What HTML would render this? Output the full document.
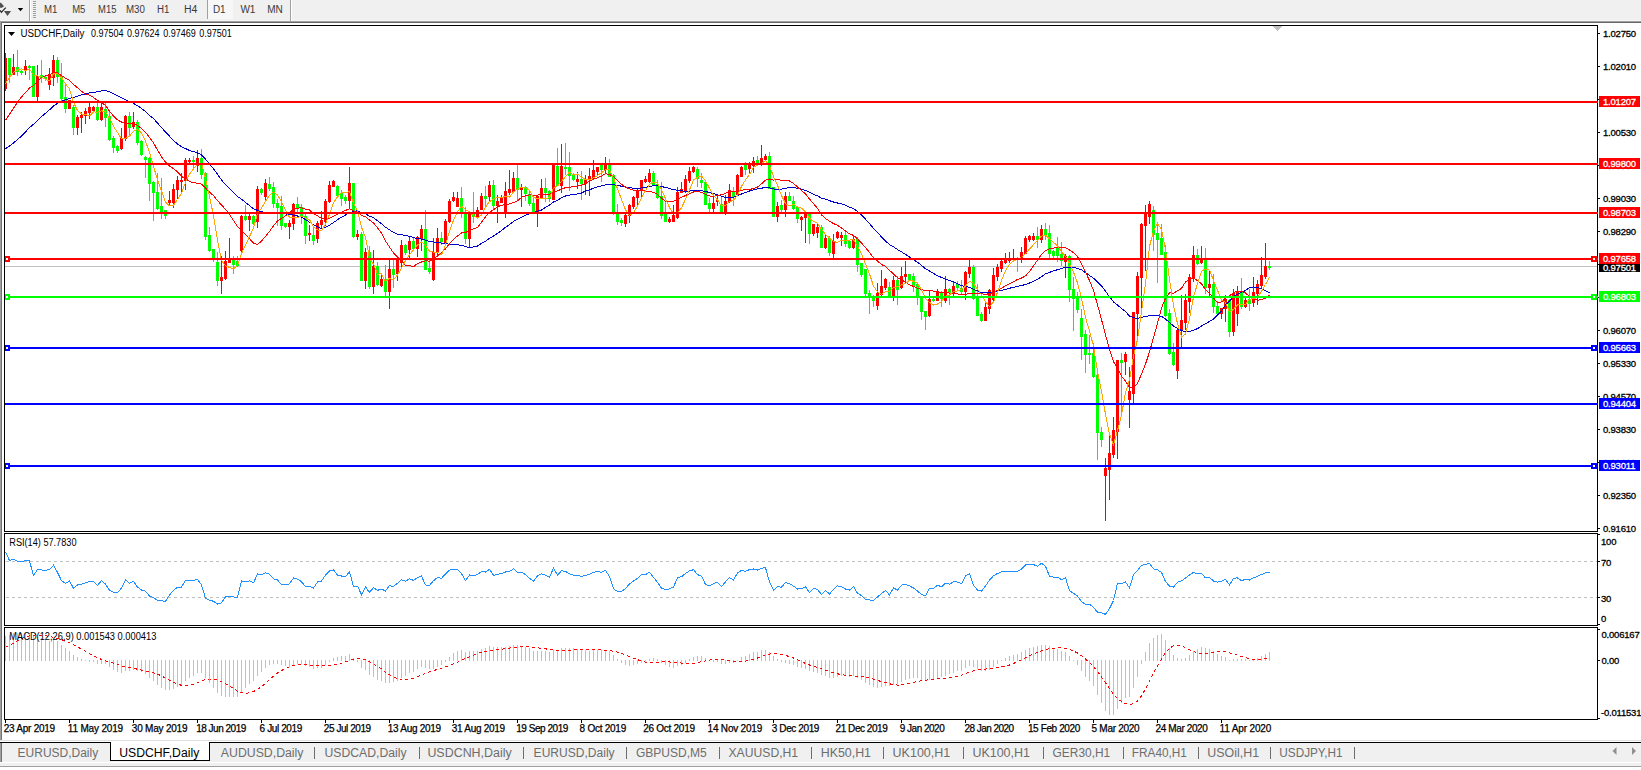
<!DOCTYPE html>
<html><head><meta charset="utf-8"><style>
html,body{margin:0;padding:0;background:#fff;}
body{width:1641px;height:770px;overflow:hidden;}
svg{display:block;font-family:"Liberation Sans",sans-serif;}
</style></head><body>
<svg width="1641" height="770" viewBox="0 0 1641 770">
<rect x="0" y="0" width="1641" height="21" fill="#f0f0f0"/>
<rect x="0" y="20" width="1641" height="1" fill="#f6f6f6"/>
<rect x="0" y="21" width="1641" height="1" fill="#a0a0a0"/>
<rect x="0" y="22" width="1641" height="1" fill="#696969"/>
<rect x="0" y="22" width="1" height="718" fill="#a0a0a0"/>
<rect x="1" y="22" width="1" height="718" fill="#737373"/>
<clipPath id="cm"><rect x="5" y="26" width="1592" height="505"/></clipPath>
<clipPath id="cr"><rect x="5" y="534" width="1592" height="91"/></clipPath>
<clipPath id="cd"><rect x="5" y="628" width="1592" height="91"/></clipPath>
<g clip-path="url(#cm)" shape-rendering="crispEdges">
<polygon points="1272.5,26 1282.5,26 1277.5,31" fill="#c0c0c0"/>
<rect x="5" y="266" width="1592" height="1" fill="#c0c0c0"/>
<rect x="5" y="53" width="1" height="38" fill="#ff0000"/>
<rect x="4" y="58" width="3" height="31" fill="#ff0000"/>
<rect x="9" y="58" width="1" height="25" fill="#00ff00"/>
<rect x="8" y="58" width="3" height="17" fill="#00ff00"/>
<rect x="13" y="54" width="1" height="21" fill="#ff0000"/>
<rect x="12" y="67" width="3" height="8" fill="#ff0000"/>
<rect x="17" y="50" width="1" height="26" fill="#00ff00"/>
<rect x="16" y="67" width="3" height="5" fill="#00ff00"/>
<rect x="21" y="70" width="1" height="5" fill="#00ff00"/>
<rect x="20" y="71" width="3" height="2" fill="#00ff00"/>
<rect x="25" y="60" width="1" height="15" fill="#ff0000"/>
<rect x="24" y="66" width="3" height="5" fill="#ff0000"/>
<rect x="29" y="65" width="1" height="15" fill="#00ff00"/>
<rect x="28" y="66" width="3" height="2" fill="#00ff00"/>
<rect x="33" y="66" width="1" height="31" fill="#00ff00"/>
<rect x="32" y="66" width="3" height="31" fill="#00ff00"/>
<rect x="37" y="65" width="1" height="36" fill="#ff0000"/>
<rect x="36" y="76" width="3" height="21" fill="#ff0000"/>
<rect x="41" y="60" width="1" height="23" fill="#00ff00"/>
<rect x="40" y="75" width="3" height="3" fill="#00ff00"/>
<rect x="45" y="76" width="1" height="5" fill="#00ff00"/>
<rect x="44" y="77" width="3" height="2" fill="#00ff00"/>
<rect x="49" y="68" width="1" height="22" fill="#ff0000"/>
<rect x="48" y="75" width="3" height="10" fill="#ff0000"/>
<rect x="53" y="55" width="1" height="31" fill="#ff0000"/>
<rect x="52" y="60" width="3" height="18" fill="#ff0000"/>
<rect x="57" y="57" width="1" height="26" fill="#00ff00"/>
<rect x="56" y="60" width="3" height="17" fill="#00ff00"/>
<rect x="61" y="63" width="1" height="39" fill="#00ff00"/>
<rect x="60" y="76" width="3" height="23" fill="#00ff00"/>
<rect x="65" y="85" width="1" height="28" fill="#00ff00"/>
<rect x="64" y="97" width="3" height="12" fill="#00ff00"/>
<rect x="69" y="100" width="1" height="9" fill="#ff0000"/>
<rect x="68" y="100" width="3" height="9" fill="#ff0000"/>
<rect x="73" y="105" width="1" height="30" fill="#00ff00"/>
<rect x="72" y="107" width="3" height="21" fill="#00ff00"/>
<rect x="77" y="115" width="1" height="20" fill="#ff0000"/>
<rect x="76" y="117" width="3" height="11" fill="#ff0000"/>
<rect x="81" y="112" width="1" height="21" fill="#ff0000"/>
<rect x="80" y="115" width="3" height="3" fill="#ff0000"/>
<rect x="85" y="108" width="1" height="16" fill="#ff0000"/>
<rect x="84" y="111" width="3" height="5" fill="#ff0000"/>
<rect x="89" y="102" width="1" height="17" fill="#ff0000"/>
<rect x="88" y="107" width="3" height="6" fill="#ff0000"/>
<rect x="93" y="106" width="1" height="7" fill="#ff0000"/>
<rect x="92" y="107" width="3" height="4" fill="#ff0000"/>
<rect x="97" y="102" width="1" height="19" fill="#00ff00"/>
<rect x="96" y="107" width="3" height="13" fill="#00ff00"/>
<rect x="101" y="102" width="1" height="19" fill="#ff0000"/>
<rect x="100" y="107" width="3" height="13" fill="#ff0000"/>
<rect x="105" y="102" width="1" height="25" fill="#00ff00"/>
<rect x="104" y="109" width="3" height="9" fill="#00ff00"/>
<rect x="109" y="112" width="1" height="29" fill="#00ff00"/>
<rect x="108" y="116" width="3" height="24" fill="#00ff00"/>
<rect x="113" y="136" width="1" height="17" fill="#00ff00"/>
<rect x="112" y="138" width="3" height="10" fill="#00ff00"/>
<rect x="117" y="145" width="1" height="8" fill="#00ff00"/>
<rect x="116" y="146" width="3" height="5" fill="#00ff00"/>
<rect x="121" y="128" width="1" height="22" fill="#ff0000"/>
<rect x="120" y="138" width="3" height="11" fill="#ff0000"/>
<rect x="125" y="115" width="1" height="26" fill="#ff0000"/>
<rect x="124" y="116" width="3" height="23" fill="#ff0000"/>
<rect x="129" y="112" width="1" height="24" fill="#00ff00"/>
<rect x="128" y="116" width="3" height="12" fill="#00ff00"/>
<rect x="133" y="112" width="1" height="17" fill="#ff0000"/>
<rect x="132" y="122" width="3" height="5" fill="#ff0000"/>
<rect x="137" y="120" width="1" height="25" fill="#00ff00"/>
<rect x="136" y="122" width="3" height="21" fill="#00ff00"/>
<rect x="141" y="140" width="1" height="16" fill="#00ff00"/>
<rect x="140" y="141" width="3" height="14" fill="#00ff00"/>
<rect x="145" y="156" width="1" height="22" fill="#00ff00"/>
<rect x="144" y="157" width="3" height="3" fill="#00ff00"/>
<rect x="149" y="157" width="1" height="44" fill="#00ff00"/>
<rect x="148" y="158" width="3" height="26" fill="#00ff00"/>
<rect x="153" y="181" width="1" height="40" fill="#00ff00"/>
<rect x="152" y="182" width="3" height="11" fill="#00ff00"/>
<rect x="157" y="173" width="1" height="37" fill="#00ff00"/>
<rect x="156" y="192" width="3" height="17" fill="#00ff00"/>
<rect x="161" y="178" width="1" height="41" fill="#00ff00"/>
<rect x="160" y="206" width="3" height="6" fill="#00ff00"/>
<rect x="165" y="210" width="1" height="9" fill="#00ff00"/>
<rect x="164" y="210" width="3" height="6" fill="#00ff00"/>
<rect x="169" y="191" width="1" height="14" fill="#ff0000"/>
<rect x="168" y="200" width="3" height="3" fill="#ff0000"/>
<rect x="173" y="184" width="1" height="24" fill="#ff0000"/>
<rect x="172" y="189" width="3" height="14" fill="#ff0000"/>
<rect x="177" y="176" width="1" height="23" fill="#ff0000"/>
<rect x="176" y="180" width="3" height="10" fill="#ff0000"/>
<rect x="181" y="173" width="1" height="20" fill="#ff0000"/>
<rect x="180" y="180" width="3" height="2" fill="#ff0000"/>
<rect x="185" y="158" width="1" height="32" fill="#ff0000"/>
<rect x="184" y="160" width="3" height="21" fill="#ff0000"/>
<rect x="189" y="158" width="1" height="6" fill="#ff0000"/>
<rect x="188" y="160" width="3" height="2" fill="#ff0000"/>
<rect x="193" y="156" width="1" height="14" fill="#00ff00"/>
<rect x="192" y="160" width="3" height="2" fill="#00ff00"/>
<rect x="197" y="150" width="1" height="22" fill="#ff0000"/>
<rect x="196" y="158" width="3" height="8" fill="#ff0000"/>
<rect x="201" y="149" width="1" height="30" fill="#00ff00"/>
<rect x="200" y="158" width="3" height="17" fill="#00ff00"/>
<rect x="205" y="172" width="1" height="68" fill="#00ff00"/>
<rect x="204" y="173" width="3" height="64" fill="#00ff00"/>
<rect x="209" y="227" width="1" height="25" fill="#00ff00"/>
<rect x="208" y="235" width="3" height="16" fill="#00ff00"/>
<rect x="213" y="249" width="1" height="13" fill="#00ff00"/>
<rect x="212" y="249" width="3" height="10" fill="#00ff00"/>
<rect x="217" y="252" width="1" height="34" fill="#00ff00"/>
<rect x="216" y="262" width="3" height="19" fill="#00ff00"/>
<rect x="221" y="256" width="1" height="38" fill="#ff0000"/>
<rect x="220" y="277" width="3" height="4" fill="#ff0000"/>
<rect x="225" y="251" width="1" height="29" fill="#ff0000"/>
<rect x="224" y="261" width="3" height="18" fill="#ff0000"/>
<rect x="229" y="238" width="1" height="25" fill="#ff0000"/>
<rect x="228" y="259" width="3" height="4" fill="#ff0000"/>
<rect x="233" y="256" width="1" height="18" fill="#00ff00"/>
<rect x="232" y="260" width="3" height="5" fill="#00ff00"/>
<rect x="237" y="256" width="1" height="11" fill="#00ff00"/>
<rect x="236" y="261" width="3" height="5" fill="#00ff00"/>
<rect x="241" y="215" width="1" height="37" fill="#ff0000"/>
<rect x="240" y="216" width="3" height="35" fill="#ff0000"/>
<rect x="245" y="205" width="1" height="16" fill="#00ff00"/>
<rect x="244" y="216" width="3" height="4" fill="#00ff00"/>
<rect x="249" y="214" width="1" height="17" fill="#ff0000"/>
<rect x="248" y="216" width="3" height="4" fill="#ff0000"/>
<rect x="253" y="215" width="1" height="10" fill="#00ff00"/>
<rect x="252" y="216" width="3" height="8" fill="#00ff00"/>
<rect x="257" y="186" width="1" height="42" fill="#ff0000"/>
<rect x="256" y="189" width="3" height="33" fill="#ff0000"/>
<rect x="261" y="188" width="1" height="7" fill="#00ff00"/>
<rect x="260" y="189" width="3" height="4" fill="#00ff00"/>
<rect x="265" y="179" width="1" height="21" fill="#ff0000"/>
<rect x="264" y="183" width="3" height="14" fill="#ff0000"/>
<rect x="269" y="177" width="1" height="14" fill="#00ff00"/>
<rect x="268" y="184" width="3" height="5" fill="#00ff00"/>
<rect x="273" y="182" width="1" height="26" fill="#00ff00"/>
<rect x="272" y="187" width="3" height="17" fill="#00ff00"/>
<rect x="277" y="199" width="1" height="27" fill="#00ff00"/>
<rect x="276" y="203" width="3" height="5" fill="#00ff00"/>
<rect x="281" y="196" width="1" height="34" fill="#00ff00"/>
<rect x="280" y="206" width="3" height="20" fill="#00ff00"/>
<rect x="285" y="223" width="1" height="5" fill="#00ff00"/>
<rect x="284" y="223" width="3" height="4" fill="#00ff00"/>
<rect x="289" y="220" width="1" height="19" fill="#ff0000"/>
<rect x="288" y="223" width="3" height="4" fill="#ff0000"/>
<rect x="293" y="203" width="1" height="27" fill="#ff0000"/>
<rect x="292" y="204" width="3" height="20" fill="#ff0000"/>
<rect x="297" y="197" width="1" height="15" fill="#00ff00"/>
<rect x="296" y="204" width="3" height="5" fill="#00ff00"/>
<rect x="301" y="204" width="1" height="20" fill="#00ff00"/>
<rect x="300" y="207" width="3" height="10" fill="#00ff00"/>
<rect x="305" y="214" width="1" height="30" fill="#00ff00"/>
<rect x="304" y="216" width="3" height="20" fill="#00ff00"/>
<rect x="309" y="225" width="1" height="16" fill="#ff0000"/>
<rect x="308" y="233" width="3" height="2" fill="#ff0000"/>
<rect x="313" y="228" width="1" height="17" fill="#00ff00"/>
<rect x="312" y="235" width="3" height="6" fill="#00ff00"/>
<rect x="317" y="221" width="1" height="22" fill="#ff0000"/>
<rect x="316" y="223" width="3" height="16" fill="#ff0000"/>
<rect x="321" y="211" width="1" height="17" fill="#ff0000"/>
<rect x="320" y="220" width="3" height="5" fill="#ff0000"/>
<rect x="325" y="199" width="1" height="27" fill="#ff0000"/>
<rect x="324" y="201" width="3" height="21" fill="#ff0000"/>
<rect x="329" y="181" width="1" height="22" fill="#ff0000"/>
<rect x="328" y="185" width="3" height="17" fill="#ff0000"/>
<rect x="333" y="180" width="1" height="7" fill="#ff0000"/>
<rect x="332" y="181" width="3" height="6" fill="#ff0000"/>
<rect x="337" y="185" width="1" height="12" fill="#00ff00"/>
<rect x="336" y="186" width="3" height="10" fill="#00ff00"/>
<rect x="341" y="190" width="1" height="16" fill="#00ff00"/>
<rect x="340" y="193" width="3" height="6" fill="#00ff00"/>
<rect x="345" y="195" width="1" height="9" fill="#00ff00"/>
<rect x="344" y="197" width="3" height="4" fill="#00ff00"/>
<rect x="349" y="167" width="1" height="41" fill="#ff0000"/>
<rect x="348" y="183" width="3" height="18" fill="#ff0000"/>
<rect x="353" y="183" width="1" height="55" fill="#00ff00"/>
<rect x="352" y="183" width="3" height="54" fill="#00ff00"/>
<rect x="357" y="230" width="1" height="10" fill="#ff0000"/>
<rect x="356" y="234" width="3" height="3" fill="#ff0000"/>
<rect x="361" y="232" width="1" height="49" fill="#00ff00"/>
<rect x="360" y="234" width="3" height="47" fill="#00ff00"/>
<rect x="365" y="248" width="1" height="41" fill="#ff0000"/>
<rect x="364" y="252" width="3" height="29" fill="#ff0000"/>
<rect x="369" y="246" width="1" height="43" fill="#00ff00"/>
<rect x="368" y="252" width="3" height="35" fill="#00ff00"/>
<rect x="373" y="250" width="1" height="44" fill="#ff0000"/>
<rect x="372" y="266" width="3" height="21" fill="#ff0000"/>
<rect x="377" y="262" width="1" height="24" fill="#00ff00"/>
<rect x="376" y="266" width="3" height="19" fill="#00ff00"/>
<rect x="381" y="275" width="1" height="12" fill="#ff0000"/>
<rect x="380" y="279" width="3" height="7" fill="#ff0000"/>
<rect x="385" y="265" width="1" height="31" fill="#00ff00"/>
<rect x="384" y="279" width="3" height="13" fill="#00ff00"/>
<rect x="389" y="260" width="1" height="49" fill="#ff0000"/>
<rect x="388" y="269" width="3" height="23" fill="#ff0000"/>
<rect x="393" y="260" width="1" height="28" fill="#00ff00"/>
<rect x="392" y="269" width="3" height="6" fill="#00ff00"/>
<rect x="397" y="259" width="1" height="22" fill="#ff0000"/>
<rect x="396" y="260" width="3" height="14" fill="#ff0000"/>
<rect x="401" y="240" width="1" height="27" fill="#ff0000"/>
<rect x="400" y="245" width="3" height="18" fill="#ff0000"/>
<rect x="405" y="244" width="1" height="11" fill="#00ff00"/>
<rect x="404" y="245" width="3" height="8" fill="#00ff00"/>
<rect x="409" y="237" width="1" height="22" fill="#ff0000"/>
<rect x="408" y="241" width="3" height="9" fill="#ff0000"/>
<rect x="413" y="238" width="1" height="12" fill="#00ff00"/>
<rect x="412" y="241" width="3" height="8" fill="#00ff00"/>
<rect x="417" y="236" width="1" height="21" fill="#ff0000"/>
<rect x="416" y="237" width="3" height="12" fill="#ff0000"/>
<rect x="421" y="225" width="1" height="26" fill="#ff0000"/>
<rect x="420" y="229" width="3" height="10" fill="#ff0000"/>
<rect x="425" y="210" width="1" height="60" fill="#00ff00"/>
<rect x="424" y="229" width="3" height="41" fill="#00ff00"/>
<rect x="429" y="260" width="1" height="14" fill="#00ff00"/>
<rect x="428" y="268" width="3" height="4" fill="#00ff00"/>
<rect x="433" y="238" width="1" height="43" fill="#ff0000"/>
<rect x="432" y="252" width="3" height="28" fill="#ff0000"/>
<rect x="437" y="228" width="1" height="29" fill="#ff0000"/>
<rect x="436" y="238" width="3" height="15" fill="#ff0000"/>
<rect x="441" y="232" width="1" height="13" fill="#00ff00"/>
<rect x="440" y="238" width="3" height="4" fill="#00ff00"/>
<rect x="445" y="219" width="1" height="25" fill="#ff0000"/>
<rect x="444" y="221" width="3" height="22" fill="#ff0000"/>
<rect x="449" y="199" width="1" height="24" fill="#ff0000"/>
<rect x="448" y="201" width="3" height="21" fill="#ff0000"/>
<rect x="453" y="192" width="1" height="10" fill="#ff0000"/>
<rect x="452" y="197" width="3" height="4" fill="#ff0000"/>
<rect x="457" y="192" width="1" height="15" fill="#ff0000"/>
<rect x="456" y="198" width="3" height="9" fill="#ff0000"/>
<rect x="461" y="187" width="1" height="31" fill="#00ff00"/>
<rect x="460" y="198" width="3" height="14" fill="#00ff00"/>
<rect x="465" y="207" width="1" height="37" fill="#00ff00"/>
<rect x="464" y="213" width="3" height="26" fill="#00ff00"/>
<rect x="469" y="213" width="1" height="34" fill="#ff0000"/>
<rect x="468" y="213" width="3" height="26" fill="#ff0000"/>
<rect x="473" y="192" width="1" height="31" fill="#00ff00"/>
<rect x="472" y="214" width="3" height="3" fill="#00ff00"/>
<rect x="477" y="207" width="1" height="12" fill="#ff0000"/>
<rect x="476" y="210" width="3" height="7" fill="#ff0000"/>
<rect x="481" y="193" width="1" height="17" fill="#ff0000"/>
<rect x="480" y="196" width="3" height="14" fill="#ff0000"/>
<rect x="485" y="186" width="1" height="21" fill="#00ff00"/>
<rect x="484" y="196" width="3" height="3" fill="#00ff00"/>
<rect x="489" y="181" width="1" height="20" fill="#ff0000"/>
<rect x="488" y="185" width="3" height="12" fill="#ff0000"/>
<rect x="493" y="180" width="1" height="30" fill="#00ff00"/>
<rect x="492" y="185" width="3" height="21" fill="#00ff00"/>
<rect x="497" y="195" width="1" height="28" fill="#ff0000"/>
<rect x="496" y="201" width="3" height="5" fill="#ff0000"/>
<rect x="501" y="195" width="1" height="8" fill="#ff0000"/>
<rect x="500" y="197" width="3" height="6" fill="#ff0000"/>
<rect x="505" y="182" width="1" height="36" fill="#ff0000"/>
<rect x="504" y="191" width="3" height="23" fill="#ff0000"/>
<rect x="509" y="170" width="1" height="25" fill="#ff0000"/>
<rect x="508" y="189" width="3" height="4" fill="#ff0000"/>
<rect x="513" y="172" width="1" height="20" fill="#ff0000"/>
<rect x="512" y="178" width="3" height="14" fill="#ff0000"/>
<rect x="517" y="165" width="1" height="35" fill="#00ff00"/>
<rect x="516" y="178" width="3" height="12" fill="#00ff00"/>
<rect x="521" y="184" width="1" height="23" fill="#ff0000"/>
<rect x="520" y="187" width="3" height="3" fill="#ff0000"/>
<rect x="525" y="186" width="1" height="15" fill="#00ff00"/>
<rect x="524" y="187" width="3" height="7" fill="#00ff00"/>
<rect x="529" y="190" width="1" height="16" fill="#00ff00"/>
<rect x="528" y="194" width="3" height="10" fill="#00ff00"/>
<rect x="533" y="197" width="1" height="16" fill="#00ff00"/>
<rect x="532" y="203" width="3" height="10" fill="#00ff00"/>
<rect x="537" y="196" width="1" height="31" fill="#ff0000"/>
<rect x="536" y="196" width="3" height="16" fill="#ff0000"/>
<rect x="541" y="179" width="1" height="20" fill="#ff0000"/>
<rect x="540" y="188" width="3" height="10" fill="#ff0000"/>
<rect x="545" y="178" width="1" height="24" fill="#00ff00"/>
<rect x="544" y="188" width="3" height="5" fill="#00ff00"/>
<rect x="549" y="190" width="1" height="12" fill="#00ff00"/>
<rect x="548" y="191" width="3" height="8" fill="#00ff00"/>
<rect x="553" y="164" width="1" height="36" fill="#ff0000"/>
<rect x="552" y="164" width="3" height="36" fill="#ff0000"/>
<rect x="557" y="148" width="1" height="38" fill="#00ff00"/>
<rect x="556" y="166" width="3" height="20" fill="#00ff00"/>
<rect x="561" y="144" width="1" height="49" fill="#ff0000"/>
<rect x="560" y="166" width="3" height="20" fill="#ff0000"/>
<rect x="565" y="143" width="1" height="32" fill="#00ff00"/>
<rect x="564" y="167" width="3" height="2" fill="#00ff00"/>
<rect x="569" y="152" width="1" height="39" fill="#00ff00"/>
<rect x="568" y="167" width="3" height="9" fill="#00ff00"/>
<rect x="573" y="173" width="1" height="8" fill="#00ff00"/>
<rect x="572" y="174" width="3" height="6" fill="#00ff00"/>
<rect x="577" y="172" width="1" height="17" fill="#ff0000"/>
<rect x="576" y="179" width="3" height="3" fill="#ff0000"/>
<rect x="581" y="171" width="1" height="29" fill="#00ff00"/>
<rect x="580" y="179" width="3" height="5" fill="#00ff00"/>
<rect x="585" y="175" width="1" height="20" fill="#ff0000"/>
<rect x="584" y="179" width="3" height="5" fill="#ff0000"/>
<rect x="589" y="168" width="1" height="28" fill="#ff0000"/>
<rect x="588" y="176" width="3" height="4" fill="#ff0000"/>
<rect x="593" y="160" width="1" height="20" fill="#ff0000"/>
<rect x="592" y="170" width="3" height="8" fill="#ff0000"/>
<rect x="597" y="167" width="1" height="8" fill="#ff0000"/>
<rect x="596" y="167" width="3" height="5" fill="#ff0000"/>
<rect x="601" y="164" width="1" height="18" fill="#00ff00"/>
<rect x="600" y="165" width="3" height="5" fill="#00ff00"/>
<rect x="605" y="157" width="1" height="17" fill="#ff0000"/>
<rect x="604" y="164" width="3" height="6" fill="#ff0000"/>
<rect x="609" y="159" width="1" height="18" fill="#00ff00"/>
<rect x="608" y="164" width="3" height="13" fill="#00ff00"/>
<rect x="613" y="174" width="1" height="41" fill="#00ff00"/>
<rect x="612" y="175" width="3" height="38" fill="#00ff00"/>
<rect x="617" y="204" width="1" height="21" fill="#00ff00"/>
<rect x="616" y="213" width="3" height="9" fill="#00ff00"/>
<rect x="621" y="218" width="1" height="8" fill="#00ff00"/>
<rect x="620" y="220" width="3" height="3" fill="#00ff00"/>
<rect x="625" y="212" width="1" height="15" fill="#ff0000"/>
<rect x="624" y="215" width="3" height="9" fill="#ff0000"/>
<rect x="629" y="204" width="1" height="19" fill="#ff0000"/>
<rect x="628" y="205" width="3" height="11" fill="#ff0000"/>
<rect x="633" y="196" width="1" height="13" fill="#ff0000"/>
<rect x="632" y="197" width="3" height="10" fill="#ff0000"/>
<rect x="637" y="188" width="1" height="17" fill="#ff0000"/>
<rect x="636" y="190" width="3" height="8" fill="#ff0000"/>
<rect x="641" y="180" width="1" height="17" fill="#ff0000"/>
<rect x="640" y="180" width="3" height="11" fill="#ff0000"/>
<rect x="645" y="176" width="1" height="7" fill="#ff0000"/>
<rect x="644" y="179" width="3" height="3" fill="#ff0000"/>
<rect x="649" y="169" width="1" height="14" fill="#ff0000"/>
<rect x="648" y="173" width="3" height="9" fill="#ff0000"/>
<rect x="653" y="171" width="1" height="15" fill="#00ff00"/>
<rect x="652" y="173" width="3" height="12" fill="#00ff00"/>
<rect x="657" y="180" width="1" height="19" fill="#00ff00"/>
<rect x="656" y="184" width="3" height="14" fill="#00ff00"/>
<rect x="661" y="182" width="1" height="37" fill="#00ff00"/>
<rect x="660" y="196" width="3" height="20" fill="#00ff00"/>
<rect x="665" y="202" width="1" height="20" fill="#00ff00"/>
<rect x="664" y="213" width="3" height="9" fill="#00ff00"/>
<rect x="669" y="217" width="1" height="6" fill="#ff0000"/>
<rect x="668" y="219" width="3" height="3" fill="#ff0000"/>
<rect x="673" y="205" width="1" height="17" fill="#ff0000"/>
<rect x="672" y="215" width="3" height="7" fill="#ff0000"/>
<rect x="677" y="187" width="1" height="32" fill="#ff0000"/>
<rect x="676" y="192" width="3" height="26" fill="#ff0000"/>
<rect x="681" y="182" width="1" height="11" fill="#ff0000"/>
<rect x="680" y="189" width="3" height="4" fill="#ff0000"/>
<rect x="685" y="175" width="1" height="18" fill="#ff0000"/>
<rect x="684" y="179" width="3" height="13" fill="#ff0000"/>
<rect x="689" y="167" width="1" height="16" fill="#ff0000"/>
<rect x="688" y="171" width="3" height="10" fill="#ff0000"/>
<rect x="693" y="166" width="1" height="7" fill="#ff0000"/>
<rect x="692" y="167" width="3" height="5" fill="#ff0000"/>
<rect x="697" y="167" width="1" height="20" fill="#00ff00"/>
<rect x="696" y="169" width="3" height="10" fill="#00ff00"/>
<rect x="701" y="173" width="1" height="15" fill="#00ff00"/>
<rect x="700" y="180" width="3" height="3" fill="#00ff00"/>
<rect x="705" y="181" width="1" height="24" fill="#00ff00"/>
<rect x="704" y="182" width="3" height="23" fill="#00ff00"/>
<rect x="709" y="198" width="1" height="15" fill="#00ff00"/>
<rect x="708" y="203" width="3" height="6" fill="#00ff00"/>
<rect x="713" y="196" width="1" height="17" fill="#ff0000"/>
<rect x="712" y="203" width="3" height="6" fill="#ff0000"/>
<rect x="717" y="195" width="1" height="11" fill="#ff0000"/>
<rect x="716" y="200" width="3" height="2" fill="#ff0000"/>
<rect x="721" y="197" width="1" height="16" fill="#00ff00"/>
<rect x="720" y="204" width="3" height="9" fill="#00ff00"/>
<rect x="725" y="195" width="1" height="20" fill="#ff0000"/>
<rect x="724" y="201" width="3" height="12" fill="#ff0000"/>
<rect x="729" y="184" width="1" height="19" fill="#ff0000"/>
<rect x="728" y="190" width="3" height="12" fill="#ff0000"/>
<rect x="733" y="187" width="1" height="19" fill="#00ff00"/>
<rect x="732" y="191" width="3" height="6" fill="#00ff00"/>
<rect x="737" y="174" width="1" height="22" fill="#ff0000"/>
<rect x="736" y="175" width="3" height="20" fill="#ff0000"/>
<rect x="741" y="166" width="1" height="11" fill="#ff0000"/>
<rect x="740" y="167" width="3" height="10" fill="#ff0000"/>
<rect x="745" y="162" width="1" height="13" fill="#00ff00"/>
<rect x="744" y="165" width="3" height="5" fill="#00ff00"/>
<rect x="749" y="162" width="1" height="11" fill="#ff0000"/>
<rect x="748" y="163" width="3" height="6" fill="#ff0000"/>
<rect x="753" y="157" width="1" height="16" fill="#ff0000"/>
<rect x="752" y="161" width="3" height="5" fill="#ff0000"/>
<rect x="757" y="156" width="1" height="8" fill="#00ff00"/>
<rect x="756" y="160" width="3" height="4" fill="#00ff00"/>
<rect x="761" y="145" width="1" height="21" fill="#ff0000"/>
<rect x="760" y="158" width="3" height="5" fill="#ff0000"/>
<rect x="765" y="154" width="1" height="6" fill="#ff0000"/>
<rect x="764" y="156" width="3" height="4" fill="#ff0000"/>
<rect x="769" y="152" width="1" height="37" fill="#00ff00"/>
<rect x="768" y="156" width="3" height="33" fill="#00ff00"/>
<rect x="773" y="187" width="1" height="30" fill="#00ff00"/>
<rect x="772" y="187" width="3" height="30" fill="#00ff00"/>
<rect x="777" y="202" width="1" height="20" fill="#ff0000"/>
<rect x="776" y="206" width="3" height="11" fill="#ff0000"/>
<rect x="781" y="200" width="1" height="13" fill="#00ff00"/>
<rect x="780" y="205" width="3" height="5" fill="#00ff00"/>
<rect x="785" y="192" width="1" height="25" fill="#ff0000"/>
<rect x="784" y="196" width="3" height="14" fill="#ff0000"/>
<rect x="789" y="192" width="1" height="9" fill="#00ff00"/>
<rect x="788" y="196" width="3" height="5" fill="#00ff00"/>
<rect x="793" y="196" width="1" height="14" fill="#00ff00"/>
<rect x="792" y="201" width="3" height="8" fill="#00ff00"/>
<rect x="797" y="207" width="1" height="16" fill="#00ff00"/>
<rect x="796" y="207" width="3" height="12" fill="#00ff00"/>
<rect x="801" y="216" width="1" height="15" fill="#ff0000"/>
<rect x="800" y="217" width="3" height="3" fill="#ff0000"/>
<rect x="805" y="213" width="1" height="30" fill="#ff0000"/>
<rect x="804" y="213" width="3" height="5" fill="#ff0000"/>
<rect x="809" y="213" width="1" height="31" fill="#00ff00"/>
<rect x="808" y="214" width="3" height="20" fill="#00ff00"/>
<rect x="813" y="224" width="1" height="12" fill="#ff0000"/>
<rect x="812" y="224" width="3" height="10" fill="#ff0000"/>
<rect x="817" y="224" width="1" height="14" fill="#ff0000"/>
<rect x="816" y="227" width="3" height="6" fill="#ff0000"/>
<rect x="821" y="225" width="1" height="23" fill="#00ff00"/>
<rect x="820" y="227" width="3" height="21" fill="#00ff00"/>
<rect x="825" y="235" width="1" height="14" fill="#ff0000"/>
<rect x="824" y="238" width="3" height="10" fill="#ff0000"/>
<rect x="829" y="236" width="1" height="20" fill="#00ff00"/>
<rect x="828" y="238" width="3" height="15" fill="#00ff00"/>
<rect x="833" y="234" width="1" height="25" fill="#ff0000"/>
<rect x="832" y="241" width="3" height="13" fill="#ff0000"/>
<rect x="837" y="231" width="1" height="8" fill="#ff0000"/>
<rect x="836" y="232" width="3" height="6" fill="#ff0000"/>
<rect x="841" y="232" width="1" height="14" fill="#ff0000"/>
<rect x="840" y="235" width="3" height="3" fill="#ff0000"/>
<rect x="845" y="231" width="1" height="16" fill="#00ff00"/>
<rect x="844" y="235" width="3" height="9" fill="#00ff00"/>
<rect x="849" y="240" width="1" height="9" fill="#00ff00"/>
<rect x="848" y="241" width="3" height="7" fill="#00ff00"/>
<rect x="853" y="236" width="1" height="13" fill="#ff0000"/>
<rect x="852" y="239" width="3" height="9" fill="#ff0000"/>
<rect x="857" y="237" width="1" height="35" fill="#00ff00"/>
<rect x="856" y="239" width="3" height="26" fill="#00ff00"/>
<rect x="861" y="263" width="1" height="14" fill="#00ff00"/>
<rect x="860" y="263" width="3" height="12" fill="#00ff00"/>
<rect x="865" y="269" width="1" height="28" fill="#00ff00"/>
<rect x="864" y="269" width="3" height="25" fill="#00ff00"/>
<rect x="869" y="290" width="1" height="24" fill="#00ff00"/>
<rect x="868" y="293" width="3" height="5" fill="#00ff00"/>
<rect x="873" y="295" width="1" height="12" fill="#00ff00"/>
<rect x="872" y="297" width="3" height="4" fill="#00ff00"/>
<rect x="877" y="283" width="1" height="27" fill="#ff0000"/>
<rect x="876" y="293" width="3" height="13" fill="#ff0000"/>
<rect x="881" y="270" width="1" height="26" fill="#ff0000"/>
<rect x="880" y="286" width="3" height="9" fill="#ff0000"/>
<rect x="885" y="278" width="1" height="12" fill="#ff0000"/>
<rect x="884" y="279" width="3" height="9" fill="#ff0000"/>
<rect x="889" y="282" width="1" height="16" fill="#00ff00"/>
<rect x="888" y="287" width="3" height="11" fill="#00ff00"/>
<rect x="893" y="276" width="1" height="25" fill="#ff0000"/>
<rect x="892" y="280" width="3" height="18" fill="#ff0000"/>
<rect x="897" y="276" width="1" height="29" fill="#00ff00"/>
<rect x="896" y="280" width="3" height="10" fill="#00ff00"/>
<rect x="901" y="267" width="1" height="22" fill="#ff0000"/>
<rect x="900" y="276" width="3" height="12" fill="#ff0000"/>
<rect x="905" y="261" width="1" height="21" fill="#ff0000"/>
<rect x="904" y="274" width="3" height="3" fill="#ff0000"/>
<rect x="909" y="274" width="1" height="7" fill="#00ff00"/>
<rect x="908" y="274" width="3" height="6" fill="#00ff00"/>
<rect x="913" y="273" width="1" height="19" fill="#00ff00"/>
<rect x="912" y="276" width="3" height="11" fill="#00ff00"/>
<rect x="917" y="283" width="1" height="22" fill="#00ff00"/>
<rect x="916" y="284" width="3" height="14" fill="#00ff00"/>
<rect x="921" y="297" width="1" height="23" fill="#00ff00"/>
<rect x="920" y="298" width="3" height="14" fill="#00ff00"/>
<rect x="925" y="311" width="1" height="19" fill="#00ff00"/>
<rect x="924" y="311" width="3" height="6" fill="#00ff00"/>
<rect x="929" y="291" width="1" height="26" fill="#ff0000"/>
<rect x="928" y="299" width="3" height="17" fill="#ff0000"/>
<rect x="933" y="298" width="1" height="4" fill="#00ff00"/>
<rect x="932" y="299" width="3" height="2" fill="#00ff00"/>
<rect x="937" y="289" width="1" height="12" fill="#ff0000"/>
<rect x="936" y="292" width="3" height="9" fill="#ff0000"/>
<rect x="941" y="291" width="1" height="16" fill="#00ff00"/>
<rect x="940" y="292" width="3" height="7" fill="#00ff00"/>
<rect x="945" y="276" width="1" height="27" fill="#ff0000"/>
<rect x="944" y="289" width="3" height="12" fill="#ff0000"/>
<rect x="949" y="288" width="1" height="17" fill="#00ff00"/>
<rect x="948" y="289" width="3" height="4" fill="#00ff00"/>
<rect x="953" y="282" width="1" height="14" fill="#ff0000"/>
<rect x="952" y="286" width="3" height="8" fill="#ff0000"/>
<rect x="957" y="281" width="1" height="9" fill="#00ff00"/>
<rect x="956" y="284" width="3" height="4" fill="#00ff00"/>
<rect x="961" y="280" width="1" height="15" fill="#00ff00"/>
<rect x="960" y="288" width="3" height="4" fill="#00ff00"/>
<rect x="965" y="271" width="1" height="29" fill="#ff0000"/>
<rect x="964" y="272" width="3" height="20" fill="#ff0000"/>
<rect x="969" y="260" width="1" height="18" fill="#ff0000"/>
<rect x="968" y="267" width="3" height="7" fill="#ff0000"/>
<rect x="973" y="265" width="1" height="35" fill="#00ff00"/>
<rect x="972" y="267" width="3" height="32" fill="#00ff00"/>
<rect x="977" y="284" width="1" height="32" fill="#00ff00"/>
<rect x="976" y="297" width="3" height="19" fill="#00ff00"/>
<rect x="981" y="312" width="1" height="10" fill="#00ff00"/>
<rect x="980" y="314" width="3" height="7" fill="#00ff00"/>
<rect x="985" y="302" width="1" height="19" fill="#ff0000"/>
<rect x="984" y="307" width="3" height="14" fill="#ff0000"/>
<rect x="989" y="289" width="1" height="25" fill="#ff0000"/>
<rect x="988" y="290" width="3" height="19" fill="#ff0000"/>
<rect x="993" y="268" width="1" height="33" fill="#ff0000"/>
<rect x="992" y="275" width="3" height="25" fill="#ff0000"/>
<rect x="997" y="264" width="1" height="17" fill="#ff0000"/>
<rect x="996" y="267" width="3" height="10" fill="#ff0000"/>
<rect x="1001" y="260" width="1" height="12" fill="#ff0000"/>
<rect x="1000" y="261" width="3" height="8" fill="#ff0000"/>
<rect x="1005" y="253" width="1" height="11" fill="#ff0000"/>
<rect x="1004" y="258" width="3" height="5" fill="#ff0000"/>
<rect x="1009" y="252" width="1" height="11" fill="#ff0000"/>
<rect x="1008" y="258" width="3" height="3" fill="#ff0000"/>
<rect x="1013" y="249" width="1" height="12" fill="#ff0000"/>
<rect x="1012" y="258" width="3" height="2" fill="#ff0000"/>
<rect x="1017" y="257" width="1" height="15" fill="#00ff00"/>
<rect x="1016" y="258" width="3" height="2" fill="#00ff00"/>
<rect x="1021" y="247" width="1" height="16" fill="#ff0000"/>
<rect x="1020" y="252" width="3" height="8" fill="#ff0000"/>
<rect x="1025" y="236" width="1" height="18" fill="#ff0000"/>
<rect x="1024" y="238" width="3" height="16" fill="#ff0000"/>
<rect x="1029" y="235" width="1" height="7" fill="#ff0000"/>
<rect x="1028" y="236" width="3" height="4" fill="#ff0000"/>
<rect x="1033" y="233" width="1" height="8" fill="#ff0000"/>
<rect x="1032" y="236" width="3" height="4" fill="#ff0000"/>
<rect x="1037" y="227" width="1" height="21" fill="#00ff00"/>
<rect x="1036" y="236" width="3" height="4" fill="#00ff00"/>
<rect x="1041" y="225" width="1" height="18" fill="#ff0000"/>
<rect x="1040" y="229" width="3" height="11" fill="#ff0000"/>
<rect x="1045" y="223" width="1" height="17" fill="#00ff00"/>
<rect x="1044" y="229" width="3" height="6" fill="#00ff00"/>
<rect x="1049" y="225" width="1" height="34" fill="#00ff00"/>
<rect x="1048" y="233" width="3" height="21" fill="#00ff00"/>
<rect x="1053" y="250" width="1" height="8" fill="#00ff00"/>
<rect x="1052" y="251" width="3" height="5" fill="#00ff00"/>
<rect x="1057" y="237" width="1" height="25" fill="#00ff00"/>
<rect x="1056" y="248" width="3" height="8" fill="#00ff00"/>
<rect x="1061" y="242" width="1" height="24" fill="#00ff00"/>
<rect x="1060" y="254" width="3" height="7" fill="#00ff00"/>
<rect x="1065" y="254" width="1" height="24" fill="#ff0000"/>
<rect x="1064" y="256" width="3" height="6" fill="#ff0000"/>
<rect x="1069" y="255" width="1" height="47" fill="#00ff00"/>
<rect x="1068" y="256" width="3" height="34" fill="#00ff00"/>
<rect x="1073" y="277" width="1" height="54" fill="#00ff00"/>
<rect x="1072" y="289" width="3" height="10" fill="#00ff00"/>
<rect x="1077" y="292" width="1" height="21" fill="#00ff00"/>
<rect x="1076" y="297" width="3" height="13" fill="#00ff00"/>
<rect x="1081" y="309" width="1" height="51" fill="#00ff00"/>
<rect x="1080" y="318" width="3" height="19" fill="#00ff00"/>
<rect x="1085" y="330" width="1" height="43" fill="#00ff00"/>
<rect x="1084" y="334" width="3" height="21" fill="#00ff00"/>
<rect x="1089" y="335" width="1" height="29" fill="#00ff00"/>
<rect x="1088" y="353" width="3" height="2" fill="#00ff00"/>
<rect x="1093" y="343" width="1" height="35" fill="#00ff00"/>
<rect x="1092" y="353" width="3" height="24" fill="#00ff00"/>
<rect x="1097" y="374" width="1" height="86" fill="#00ff00"/>
<rect x="1096" y="375" width="3" height="58" fill="#00ff00"/>
<rect x="1101" y="427" width="1" height="20" fill="#00ff00"/>
<rect x="1100" y="432" width="3" height="8" fill="#00ff00"/>
<rect x="1105" y="458" width="1" height="63" fill="#ff0000"/>
<rect x="1104" y="468" width="3" height="8" fill="#ff0000"/>
<rect x="1109" y="435" width="1" height="65" fill="#ff0000"/>
<rect x="1108" y="453" width="3" height="17" fill="#ff0000"/>
<rect x="1113" y="417" width="1" height="41" fill="#ff0000"/>
<rect x="1112" y="430" width="3" height="25" fill="#ff0000"/>
<rect x="1117" y="360" width="1" height="99" fill="#ff0000"/>
<rect x="1116" y="360" width="3" height="72" fill="#ff0000"/>
<rect x="1121" y="353" width="1" height="60" fill="#00ff00"/>
<rect x="1120" y="360" width="3" height="3" fill="#00ff00"/>
<rect x="1125" y="352" width="1" height="23" fill="#ff0000"/>
<rect x="1124" y="354" width="3" height="8" fill="#ff0000"/>
<rect x="1129" y="367" width="1" height="61" fill="#ff0000"/>
<rect x="1128" y="391" width="3" height="9" fill="#ff0000"/>
<rect x="1133" y="312" width="1" height="91" fill="#ff0000"/>
<rect x="1132" y="312" width="3" height="82" fill="#ff0000"/>
<rect x="1137" y="272" width="1" height="65" fill="#ff0000"/>
<rect x="1136" y="276" width="3" height="38" fill="#ff0000"/>
<rect x="1141" y="223" width="1" height="87" fill="#ff0000"/>
<rect x="1140" y="224" width="3" height="54" fill="#ff0000"/>
<rect x="1145" y="205" width="1" height="66" fill="#ff0000"/>
<rect x="1144" y="214" width="3" height="12" fill="#ff0000"/>
<rect x="1149" y="201" width="1" height="23" fill="#ff0000"/>
<rect x="1148" y="204" width="3" height="13" fill="#ff0000"/>
<rect x="1153" y="206" width="1" height="45" fill="#00ff00"/>
<rect x="1152" y="210" width="3" height="25" fill="#00ff00"/>
<rect x="1157" y="222" width="1" height="61" fill="#00ff00"/>
<rect x="1156" y="233" width="3" height="7" fill="#00ff00"/>
<rect x="1161" y="224" width="1" height="31" fill="#00ff00"/>
<rect x="1160" y="238" width="3" height="17" fill="#00ff00"/>
<rect x="1165" y="245" width="1" height="72" fill="#00ff00"/>
<rect x="1164" y="252" width="3" height="64" fill="#00ff00"/>
<rect x="1169" y="309" width="1" height="46" fill="#00ff00"/>
<rect x="1168" y="313" width="3" height="41" fill="#00ff00"/>
<rect x="1173" y="343" width="1" height="23" fill="#00ff00"/>
<rect x="1172" y="352" width="3" height="13" fill="#00ff00"/>
<rect x="1177" y="329" width="1" height="50" fill="#ff0000"/>
<rect x="1176" y="330" width="3" height="41" fill="#ff0000"/>
<rect x="1181" y="295" width="1" height="53" fill="#ff0000"/>
<rect x="1180" y="320" width="3" height="11" fill="#ff0000"/>
<rect x="1185" y="294" width="1" height="36" fill="#ff0000"/>
<rect x="1184" y="300" width="3" height="23" fill="#ff0000"/>
<rect x="1189" y="274" width="1" height="39" fill="#ff0000"/>
<rect x="1188" y="277" width="3" height="25" fill="#ff0000"/>
<rect x="1193" y="246" width="1" height="36" fill="#ff0000"/>
<rect x="1192" y="255" width="3" height="24" fill="#ff0000"/>
<rect x="1197" y="249" width="1" height="16" fill="#00ff00"/>
<rect x="1196" y="255" width="3" height="9" fill="#00ff00"/>
<rect x="1201" y="246" width="1" height="18" fill="#ff0000"/>
<rect x="1200" y="259" width="3" height="4" fill="#ff0000"/>
<rect x="1205" y="248" width="1" height="46" fill="#00ff00"/>
<rect x="1204" y="260" width="3" height="28" fill="#00ff00"/>
<rect x="1209" y="271" width="1" height="26" fill="#ff0000"/>
<rect x="1208" y="284" width="3" height="4" fill="#ff0000"/>
<rect x="1213" y="274" width="1" height="39" fill="#00ff00"/>
<rect x="1212" y="284" width="3" height="23" fill="#00ff00"/>
<rect x="1217" y="301" width="1" height="14" fill="#00ff00"/>
<rect x="1216" y="306" width="3" height="8" fill="#00ff00"/>
<rect x="1221" y="308" width="1" height="11" fill="#ff0000"/>
<rect x="1220" y="308" width="3" height="6" fill="#ff0000"/>
<rect x="1225" y="295" width="1" height="27" fill="#ff0000"/>
<rect x="1224" y="299" width="3" height="10" fill="#ff0000"/>
<rect x="1229" y="299" width="1" height="38" fill="#00ff00"/>
<rect x="1228" y="300" width="3" height="32" fill="#00ff00"/>
<rect x="1233" y="289" width="1" height="47" fill="#ff0000"/>
<rect x="1232" y="293" width="3" height="39" fill="#ff0000"/>
<rect x="1237" y="286" width="1" height="40" fill="#ff0000"/>
<rect x="1236" y="291" width="3" height="23" fill="#ff0000"/>
<rect x="1241" y="278" width="1" height="31" fill="#00ff00"/>
<rect x="1240" y="292" width="3" height="15" fill="#00ff00"/>
<rect x="1245" y="297" width="1" height="11" fill="#ff0000"/>
<rect x="1244" y="300" width="3" height="7" fill="#ff0000"/>
<rect x="1249" y="289" width="1" height="22" fill="#00ff00"/>
<rect x="1248" y="299" width="3" height="5" fill="#00ff00"/>
<rect x="1253" y="277" width="1" height="30" fill="#ff0000"/>
<rect x="1252" y="292" width="3" height="11" fill="#ff0000"/>
<rect x="1257" y="280" width="1" height="25" fill="#ff0000"/>
<rect x="1256" y="284" width="3" height="10" fill="#ff0000"/>
<rect x="1261" y="257" width="1" height="31" fill="#ff0000"/>
<rect x="1260" y="275" width="3" height="11" fill="#ff0000"/>
<rect x="1265" y="243" width="1" height="36" fill="#ff0000"/>
<rect x="1264" y="266" width="3" height="11" fill="#ff0000"/>
<rect x="1269" y="261" width="1" height="9" fill="#00ff00"/>
<rect x="1268" y="266" width="3" height="2" fill="#00ff00"/>
<polyline points="5.5,148.6 9.5,146.0 13.5,142.9 17.5,139.6 21.5,136.0 25.5,131.9 29.5,127.6 33.5,124.3 37.5,120.4 41.5,116.7 45.5,113.2 49.5,109.8 53.5,106.1 57.5,103.2 61.5,101.3 65.5,99.9 69.5,98.4 73.5,97.4 77.5,96.3 81.5,94.9 85.5,93.7 89.5,93.0 93.5,92.3 97.5,91.9 101.5,90.8 105.5,90.6 109.5,91.8 113.5,93.6 117.5,95.8 121.5,97.8 125.5,99.8 129.5,101.5 133.5,103.4 137.5,105.7 141.5,108.5 145.5,111.6 149.5,115.4 153.5,118.6 157.5,123.0 161.5,127.5 165.5,132.1 169.5,136.2 173.5,140.5 177.5,144.0 181.5,146.7 185.5,148.5 189.5,150.5 193.5,151.6 197.5,153.0 201.5,154.9 205.5,159.1 209.5,163.9 213.5,168.9 217.5,174.3 221.5,179.9 225.5,184.7 229.5,188.7 233.5,192.6 237.5,196.5 241.5,199.1 245.5,202.5 249.5,205.5 253.5,208.8 257.5,210.4 261.5,211.7 265.5,212.5 269.5,212.6 273.5,213.0 277.5,213.0 281.5,213.4 285.5,213.8 289.5,214.6 293.5,215.1 297.5,216.0 301.5,217.2 305.5,219.7 309.5,222.1 313.5,224.8 317.5,226.9 321.5,228.5 325.5,227.3 329.5,225.1 333.5,222.6 337.5,219.7 341.5,217.1 345.5,215.1 349.5,212.5 353.5,211.6 357.5,210.6 361.5,212.7 365.5,213.8 369.5,216.1 373.5,217.6 377.5,220.7 381.5,223.6 385.5,227.2 389.5,229.9 393.5,232.3 397.5,234.1 401.5,234.7 405.5,235.6 409.5,236.2 413.5,237.7 417.5,238.6 421.5,239.1 425.5,240.2 429.5,241.5 433.5,241.9 437.5,242.4 441.5,243.1 445.5,243.7 449.5,244.3 453.5,244.8 457.5,244.9 461.5,245.3 465.5,246.6 469.5,247.6 473.5,246.9 477.5,246.1 481.5,243.3 485.5,241.5 489.5,238.2 493.5,236.1 497.5,233.4 501.5,230.6 505.5,227.3 509.5,224.6 513.5,221.4 517.5,219.1 521.5,217.1 525.5,215.2 529.5,213.9 533.5,212.7 537.5,211.3 541.5,210.0 545.5,207.4 549.5,205.0 553.5,202.0 557.5,200.3 561.5,197.8 565.5,196.0 569.5,195.1 573.5,194.5 577.5,193.9 581.5,193.0 585.5,191.0 589.5,189.8 593.5,188.2 597.5,186.8 601.5,185.9 605.5,184.8 609.5,184.5 613.5,184.7 617.5,185.4 621.5,186.2 625.5,187.0 629.5,187.5 633.5,188.2 637.5,188.2 641.5,188.0 645.5,187.5 649.5,186.5 653.5,185.6 657.5,185.6 661.5,186.5 665.5,187.5 669.5,188.2 673.5,189.9 677.5,190.1 681.5,190.9 685.5,191.2 689.5,191.1 693.5,190.7 697.5,190.7 701.5,190.6 705.5,191.5 709.5,192.5 713.5,193.6 717.5,194.7 721.5,196.2 725.5,197.4 729.5,197.9 733.5,197.3 737.5,195.8 741.5,194.0 745.5,192.4 749.5,191.0 753.5,189.8 757.5,188.9 761.5,188.2 765.5,187.4 769.5,187.9 773.5,189.0 777.5,189.3 781.5,189.1 785.5,188.3 789.5,187.6 793.5,187.4 797.5,188.3 801.5,189.2 805.5,190.3 809.5,192.4 813.5,194.3 817.5,195.9 821.5,198.1 825.5,199.2 829.5,200.7 833.5,202.0 837.5,203.0 841.5,203.8 845.5,205.2 849.5,207.1 853.5,208.5 857.5,211.5 861.5,215.1 865.5,219.2 869.5,223.7 873.5,228.3 877.5,232.6 881.5,236.9 885.5,241.0 889.5,244.6 893.5,246.8 897.5,249.5 901.5,251.8 905.5,254.4 909.5,257.0 913.5,259.6 917.5,262.2 921.5,265.4 925.5,268.8 929.5,271.0 933.5,273.5 937.5,275.7 941.5,277.4 945.5,279.1 949.5,280.4 953.5,281.9 957.5,283.8 961.5,285.6 965.5,286.6 969.5,287.3 973.5,289.2 977.5,290.9 981.5,292.5 985.5,292.9 989.5,292.7 993.5,291.9 997.5,291.0 1001.5,290.2 1005.5,289.5 1009.5,288.2 1013.5,287.4 1017.5,286.4 1021.5,285.6 1025.5,284.4 1029.5,283.0 1033.5,281.3 1037.5,279.4 1041.5,276.7 1045.5,273.9 1049.5,272.4 1053.5,270.9 1057.5,269.7 1061.5,268.4 1065.5,267.3 1069.5,267.2 1073.5,267.6 1077.5,268.3 1081.5,269.8 1085.5,272.6 1089.5,275.5 1093.5,278.1 1097.5,282.0 1101.5,285.9 1105.5,291.3 1109.5,296.7 1113.5,301.9 1117.5,305.0 1121.5,308.4 1125.5,311.6 1129.5,316.0 1133.5,317.8 1137.5,318.4 1141.5,317.4 1145.5,316.6 1149.5,315.6 1153.5,315.5 1157.5,315.5 1161.5,316.3 1165.5,319.0 1169.5,322.4 1173.5,326.0 1177.5,328.5 1181.5,330.5 1185.5,332.0 1189.5,331.6 1193.5,330.1 1197.5,328.6 1201.5,326.0 1205.5,323.8 1209.5,321.5 1213.5,319.1 1217.5,315.2 1221.5,310.8 1225.5,305.2 1229.5,301.1 1233.5,296.5 1237.5,294.2 1241.5,292.4 1245.5,290.6 1249.5,287.6 1253.5,287.0 1257.5,287.2 1261.5,288.9 1265.5,290.7 1269.5,292.8" fill="none" stroke="#0000cd" stroke-width="1"/>
<polyline points="5.5,120.2 9.5,114.2 13.5,108.3 17.5,102.1 21.5,96.9 25.5,92.5 29.5,88.1 33.5,85.5 37.5,81.1 41.5,77.8 45.5,75.9 49.5,74.6 53.5,73.0 57.5,72.9 61.5,75.7 65.5,78.1 69.5,80.5 73.5,84.5 77.5,87.7 81.5,91.2 85.5,94.4 89.5,95.1 93.5,97.4 97.5,100.4 101.5,102.4 105.5,105.4 109.5,111.1 113.5,116.1 117.5,119.9 121.5,122.0 125.5,123.1 129.5,123.1 133.5,123.5 137.5,125.4 141.5,128.5 145.5,132.2 149.5,137.6 153.5,142.9 157.5,150.1 161.5,156.8 165.5,162.2 169.5,166.0 173.5,168.8 177.5,171.8 181.5,176.4 185.5,178.7 189.5,181.4 193.5,182.8 197.5,183.1 201.5,184.1 205.5,187.9 209.5,192.1 213.5,195.6 217.5,200.6 221.5,205.0 225.5,209.4 229.5,214.4 233.5,220.4 237.5,226.4 241.5,230.4 245.5,234.6 249.5,238.6 253.5,243.2 257.5,244.3 261.5,241.1 265.5,236.4 269.5,231.4 273.5,225.9 277.5,220.9 281.5,218.3 285.5,215.9 289.5,213.0 293.5,208.6 297.5,208.1 301.5,207.9 305.5,209.2 309.5,209.9 313.5,213.6 317.5,215.8 321.5,218.4 325.5,219.4 329.5,218.1 333.5,216.2 337.5,214.1 341.5,212.1 345.5,210.4 349.5,208.9 353.5,210.9 357.5,212.2 361.5,215.4 365.5,216.8 369.5,220.1 373.5,223.1 377.5,227.7 381.5,233.3 385.5,240.9 389.5,247.1 393.5,252.8 397.5,257.2 401.5,260.4 405.5,265.4 409.5,265.7 413.5,266.7 417.5,263.6 421.5,262.0 425.5,260.8 429.5,261.1 433.5,258.9 437.5,255.9 441.5,252.4 445.5,248.9 449.5,243.7 453.5,239.2 457.5,235.9 461.5,232.9 465.5,232.7 469.5,230.2 473.5,228.7 477.5,227.4 481.5,222.1 485.5,216.9 489.5,212.1 493.5,209.8 497.5,206.9 501.5,205.2 505.5,204.5 509.5,203.9 513.5,202.5 517.5,200.9 521.5,197.3 525.5,195.9 529.5,194.9 533.5,195.1 537.5,195.1 541.5,194.4 545.5,194.9 549.5,194.4 553.5,191.7 557.5,190.9 561.5,189.1 565.5,187.6 569.5,187.4 573.5,186.6 577.5,186.1 581.5,185.4 585.5,183.6 589.5,181.1 593.5,179.2 597.5,177.7 601.5,176.1 605.5,173.6 609.5,174.5 613.5,176.4 617.5,180.4 621.5,184.2 625.5,187.1 629.5,188.9 633.5,190.2 637.5,190.7 641.5,190.8 645.5,191.0 649.5,191.2 653.5,192.4 657.5,194.4 661.5,198.1 665.5,201.3 669.5,201.8 673.5,201.4 677.5,199.2 681.5,197.4 685.5,195.5 689.5,193.6 693.5,192.0 697.5,191.9 701.5,192.1 705.5,194.3 709.5,196.0 713.5,196.4 717.5,195.4 721.5,194.7 725.5,193.4 729.5,191.6 733.5,191.9 737.5,190.9 741.5,190.1 745.5,189.9 749.5,189.6 753.5,188.4 757.5,187.1 761.5,183.8 765.5,180.1 769.5,179.0 773.5,180.1 777.5,179.7 781.5,180.3 785.5,180.7 789.5,181.0 793.5,183.4 797.5,187.0 801.5,190.4 805.5,194.0 809.5,199.1 813.5,203.5 817.5,208.4 821.5,214.9 825.5,218.5 829.5,221.1 833.5,223.6 837.5,225.2 841.5,228.0 845.5,231.1 849.5,233.9 853.5,235.4 857.5,238.7 861.5,243.1 865.5,247.4 869.5,252.6 873.5,257.8 877.5,261.1 881.5,264.5 885.5,266.4 889.5,270.4 893.5,273.9 897.5,277.7 901.5,280.1 905.5,282.0 909.5,284.9 913.5,286.4 917.5,288.1 921.5,289.4 925.5,290.7 929.5,290.6 933.5,291.1 937.5,291.6 941.5,292.9 945.5,292.4 949.5,293.2 953.5,293.0 957.5,293.8 961.5,295.0 965.5,294.5 969.5,293.1 973.5,293.2 977.5,293.5 981.5,293.8 985.5,294.4 989.5,293.6 993.5,292.4 997.5,290.2 1001.5,288.2 1005.5,285.8 1009.5,283.8 1013.5,281.7 1017.5,279.4 1021.5,278.0 1025.5,275.9 1029.5,271.5 1033.5,265.9 1037.5,260.1 1041.5,254.5 1045.5,250.5 1049.5,248.9 1053.5,248.1 1057.5,247.6 1061.5,247.8 1065.5,247.6 1069.5,249.9 1073.5,252.6 1077.5,256.7 1081.5,263.7 1085.5,272.1 1089.5,280.6 1093.5,290.4 1097.5,304.9 1101.5,319.5 1105.5,334.9 1109.5,349.0 1113.5,361.5 1117.5,368.6 1121.5,376.2 1125.5,380.9 1129.5,387.5 1133.5,387.7 1137.5,383.4 1141.5,374.1 1145.5,364.1 1149.5,351.9 1153.5,337.7 1157.5,323.4 1161.5,308.1 1165.5,298.3 1169.5,292.8 1173.5,293.1 1177.5,290.8 1181.5,288.4 1185.5,281.9 1189.5,279.4 1193.5,277.9 1197.5,280.6 1201.5,283.9 1205.5,289.8 1209.5,293.4 1213.5,298.1 1217.5,302.4 1221.5,301.9 1225.5,298.0 1229.5,295.6 1233.5,293.0 1237.5,290.9 1241.5,291.4 1245.5,293.0 1249.5,296.4 1253.5,298.5 1257.5,300.3 1261.5,299.4 1265.5,298.1 1269.5,295.4" fill="none" stroke="#ff0000" stroke-width="1"/>
<polyline points="5.5,83.7 9.5,77.5 13.5,72.5 17.5,70.0 21.5,68.9 25.5,70.5 29.5,69.1 33.5,74.9 37.5,75.9 41.5,76.9 45.5,79.3 49.5,80.9 53.5,73.7 57.5,73.7 61.5,77.9 65.5,83.9 69.5,88.9 73.5,102.3 77.5,110.5 81.5,113.9 85.5,114.5 89.5,115.9 93.5,111.9 97.5,112.3 101.5,110.7 105.5,111.9 109.5,118.3 113.5,126.3 117.5,132.5 121.5,138.7 125.5,138.5 129.5,136.1 133.5,131.1 137.5,129.5 141.5,132.7 145.5,141.3 149.5,152.5 153.5,166.5 157.5,179.7 161.5,191.1 165.5,202.3 169.5,205.7 173.5,205.1 177.5,199.5 181.5,193.3 185.5,182.3 189.5,174.3 193.5,168.7 197.5,164.3 201.5,163.1 205.5,178.3 209.5,196.3 213.5,215.7 217.5,240.1 221.5,260.7 225.5,265.7 229.5,267.5 233.5,268.7 237.5,265.7 241.5,253.5 245.5,245.1 249.5,236.5 253.5,228.3 257.5,213.1 261.5,208.3 265.5,201.1 269.5,195.5 273.5,191.5 277.5,195.1 281.5,201.7 285.5,210.3 289.5,217.3 293.5,217.5 297.5,217.7 301.5,215.9 305.5,217.7 309.5,219.7 313.5,226.9 317.5,229.9 321.5,230.7 325.5,223.9 329.5,214.3 333.5,202.5 337.5,196.9 341.5,192.5 345.5,192.3 349.5,191.9 353.5,202.9 357.5,210.7 361.5,227.1 365.5,237.5 369.5,258.1 373.5,264.1 377.5,274.1 381.5,273.9 385.5,281.7 389.5,278.3 393.5,279.9 397.5,275.1 401.5,268.3 405.5,260.5 409.5,254.9 413.5,249.7 417.5,245.1 421.5,241.9 425.5,245.3 429.5,251.3 433.5,252.1 437.5,252.3 441.5,254.7 445.5,245.1 449.5,231.1 453.5,220.1 457.5,212.1 461.5,206.1 465.5,209.5 469.5,211.9 473.5,215.7 477.5,218.1 481.5,215.1 485.5,207.1 489.5,201.5 493.5,199.3 497.5,197.5 501.5,197.7 505.5,196.3 509.5,197.1 513.5,191.7 517.5,189.3 521.5,187.3 525.5,187.7 529.5,190.5 533.5,197.3 537.5,198.7 541.5,198.9 545.5,198.7 549.5,197.7 553.5,188.1 557.5,185.9 561.5,181.5 565.5,176.7 569.5,172.1 573.5,175.1 577.5,173.9 581.5,177.3 585.5,179.5 589.5,179.7 593.5,177.9 597.5,175.5 601.5,172.7 605.5,169.7 609.5,169.7 613.5,178.1 617.5,188.9 621.5,199.5 625.5,209.7 629.5,215.5 633.5,212.5 637.5,206.3 641.5,197.9 645.5,190.7 649.5,184.3 653.5,181.7 657.5,183.1 661.5,190.1 665.5,198.5 669.5,207.7 673.5,213.9 677.5,212.9 681.5,207.7 685.5,199.3 689.5,189.7 693.5,180.1 697.5,177.3 701.5,175.9 705.5,180.9 709.5,188.3 713.5,195.5 717.5,199.9 721.5,205.9 725.5,205.3 729.5,201.7 733.5,200.3 737.5,195.3 741.5,186.3 745.5,179.9 749.5,174.5 753.5,167.5 757.5,165.1 761.5,163.3 765.5,160.7 769.5,165.7 773.5,176.7 777.5,185.3 781.5,195.5 785.5,203.5 789.5,205.9 793.5,204.3 797.5,206.7 801.5,208.3 805.5,211.7 809.5,218.3 813.5,221.5 817.5,223.3 821.5,229.3 825.5,234.3 829.5,238.1 833.5,241.5 837.5,242.5 841.5,240.1 845.5,241.1 849.5,240.1 853.5,239.7 857.5,246.1 861.5,253.9 865.5,263.9 869.5,273.9 873.5,286.1 877.5,291.9 881.5,294.3 885.5,291.5 889.5,291.5 893.5,287.5 897.5,286.7 901.5,284.7 905.5,283.7 909.5,280.1 913.5,281.3 917.5,282.9 921.5,289.9 925.5,298.3 929.5,302.3 933.5,305.1 937.5,304.1 941.5,301.5 945.5,296.1 949.5,294.7 953.5,291.9 957.5,290.9 961.5,289.5 965.5,286.1 969.5,281.1 973.5,283.5 977.5,289.1 981.5,294.9 985.5,301.9 989.5,306.5 993.5,301.9 997.5,292.3 1001.5,280.5 1005.5,270.7 1009.5,264.3 1013.5,260.9 1017.5,259.3 1021.5,257.5 1025.5,253.5 1029.5,249.1 1033.5,244.7 1037.5,240.7 1041.5,236.1 1045.5,235.3 1049.5,238.7 1053.5,242.5 1057.5,245.7 1061.5,251.9 1065.5,256.3 1069.5,263.5 1073.5,272.1 1077.5,282.9 1081.5,298.1 1085.5,317.7 1089.5,330.7 1093.5,346.3 1097.5,370.9 1101.5,391.5 1105.5,414.3 1109.5,434.1 1113.5,444.9 1117.5,430.5 1121.5,415.1 1125.5,392.3 1129.5,379.9 1133.5,356.3 1137.5,339.5 1141.5,311.9 1145.5,283.9 1149.5,246.5 1153.5,230.9 1157.5,223.5 1161.5,229.5 1165.5,249.7 1169.5,279.5 1173.5,305.5 1177.5,323.7 1181.5,336.9 1185.5,333.9 1189.5,318.7 1193.5,296.9 1197.5,283.5 1201.5,271.3 1205.5,268.7 1209.5,270.1 1213.5,280.3 1217.5,290.3 1221.5,300.1 1225.5,302.5 1229.5,311.9 1233.5,309.3 1237.5,304.9 1241.5,304.5 1245.5,304.7 1249.5,299.1 1253.5,298.9 1257.5,297.5 1261.5,291.3 1265.5,284.5 1269.5,277.3" fill="none" stroke="#ffa500" stroke-width="1"/>
<rect x="5" y="101" width="1593" height="2" fill="#ff0000"/>
<rect x="5" y="163" width="1593" height="2" fill="#ff0000"/>
<rect x="5" y="212" width="1593" height="2" fill="#ff0000"/>
<rect x="5" y="258" width="1593" height="2" fill="#ff0000"/>
<rect x="4" y="256" width="6" height="6" fill="#ff0000"/>
<rect x="6" y="258" width="2" height="2" fill="#ffffff"/>
<rect x="1591" y="256" width="6" height="6" fill="#ff0000"/>
<rect x="1593" y="258" width="2" height="2" fill="#ffffff"/>
<rect x="5" y="296" width="1593" height="2" fill="#00ff00"/>
<rect x="4" y="294" width="6" height="6" fill="#00ff00"/>
<rect x="6" y="296" width="2" height="2" fill="#ffffff"/>
<rect x="1591" y="294" width="6" height="6" fill="#00ff00"/>
<rect x="1593" y="296" width="2" height="2" fill="#ffffff"/>
<rect x="5" y="347" width="1593" height="2" fill="#0000ff"/>
<rect x="4" y="345" width="6" height="6" fill="#0000ff"/>
<rect x="6" y="347" width="2" height="2" fill="#ffffff"/>
<rect x="1591" y="345" width="6" height="6" fill="#0000ff"/>
<rect x="1593" y="347" width="2" height="2" fill="#ffffff"/>
<rect x="5" y="403" width="1593" height="2" fill="#0000ff"/>
<rect x="5" y="465" width="1593" height="2" fill="#0000ff"/>
<rect x="4" y="463" width="6" height="6" fill="#0000ff"/>
<rect x="6" y="465" width="2" height="2" fill="#ffffff"/>
<rect x="1591" y="463" width="6" height="6" fill="#0000ff"/>
<rect x="1593" y="465" width="2" height="2" fill="#ffffff"/>
</g>
<g clip-path="url(#cr)" shape-rendering="crispEdges">
<line x1="5" y1="561.5" x2="1597" y2="561.5" stroke="#c0c0c0" stroke-width="1" stroke-dasharray="3,3" stroke-dashoffset="-1"/>
<line x1="5" y1="597.5" x2="1597" y2="597.5" stroke="#c0c0c0" stroke-width="1" stroke-dasharray="3,3" stroke-dashoffset="-1"/>
<polyline points="5.5,551.7 9.5,560.6 13.5,559.2 17.5,561.3 21.5,561.8 25.5,560.4 29.5,561.0 33.5,575.5 37.5,569.5 41.5,570.0 45.5,570.4 49.5,569.5 53.5,565.2 57.5,572.5 61.5,580.6 65.5,583.6 69.5,580.8 73.5,588.4 77.5,584.9 81.5,584.2 85.5,582.8 89.5,581.3 93.5,581.3 97.5,585.4 101.5,580.7 105.5,584.1 109.5,590.2 113.5,592.2 117.5,592.9 121.5,587.8 125.5,579.9 129.5,583.2 133.5,581.5 137.5,587.1 141.5,590.0 145.5,591.2 149.5,596.1 153.5,597.7 157.5,600.3 161.5,600.8 165.5,601.4 169.5,594.9 173.5,590.5 177.5,587.2 181.5,587.2 185.5,580.1 189.5,580.1 193.5,580.5 197.5,579.4 201.5,584.9 205.5,598.2 209.5,600.2 213.5,601.3 217.5,604.0 221.5,602.8 225.5,596.8 229.5,596.1 233.5,597.0 237.5,597.1 241.5,581.0 245.5,581.8 249.5,580.9 253.5,582.8 257.5,574.0 261.5,574.9 265.5,572.8 269.5,574.3 273.5,578.8 277.5,579.9 281.5,584.7 285.5,585.0 289.5,583.9 293.5,578.0 297.5,579.2 301.5,581.7 305.5,586.9 309.5,586.2 313.5,588.1 317.5,582.0 321.5,581.0 325.5,575.1 329.5,571.0 333.5,570.0 337.5,575.0 341.5,576.0 345.5,576.7 349.5,571.7 353.5,586.8 357.5,586.2 361.5,594.6 365.5,587.0 369.5,592.3 373.5,587.6 377.5,590.3 381.5,589.1 385.5,591.0 389.5,585.6 393.5,586.5 397.5,583.2 401.5,579.8 405.5,581.3 409.5,578.8 413.5,580.4 417.5,577.8 421.5,576.0 425.5,585.0 429.5,585.4 433.5,580.7 437.5,577.6 441.5,578.3 445.5,573.9 449.5,570.1 453.5,569.4 457.5,569.7 461.5,573.6 465.5,580.6 469.5,575.0 473.5,575.8 477.5,574.5 481.5,571.5 485.5,572.1 489.5,569.3 493.5,575.3 497.5,574.4 501.5,573.4 505.5,572.0 509.5,571.5 513.5,568.8 517.5,572.8 521.5,572.3 525.5,574.6 529.5,578.2 533.5,581.2 537.5,576.0 541.5,573.7 545.5,575.2 549.5,577.4 553.5,568.1 557.5,575.2 561.5,570.7 565.5,571.4 569.5,573.7 573.5,575.1 577.5,575.1 581.5,576.6 585.5,575.3 589.5,574.3 593.5,572.3 597.5,571.3 601.5,572.3 605.5,570.5 609.5,576.4 613.5,588.9 617.5,591.3 621.5,591.5 625.5,588.4 629.5,584.1 633.5,581.0 637.5,578.4 641.5,574.8 645.5,574.5 649.5,572.4 653.5,577.3 657.5,582.3 661.5,588.1 665.5,589.8 669.5,588.9 673.5,587.0 677.5,577.8 681.5,576.7 685.5,573.4 689.5,570.9 693.5,569.7 697.5,574.6 701.5,576.3 705.5,584.4 709.5,585.7 713.5,583.6 717.5,582.3 721.5,586.5 725.5,581.8 729.5,577.7 733.5,580.0 737.5,572.8 741.5,570.5 745.5,571.4 749.5,569.6 753.5,569.0 757.5,570.0 761.5,568.3 765.5,567.6 769.5,582.1 773.5,590.3 777.5,586.5 781.5,587.3 785.5,582.4 789.5,583.7 793.5,586.1 797.5,589.0 801.5,588.6 805.5,586.8 809.5,592.5 813.5,588.5 817.5,589.4 821.5,594.6 825.5,590.6 829.5,594.0 833.5,589.3 837.5,585.8 841.5,586.7 845.5,589.0 849.5,590.1 853.5,586.5 857.5,593.3 861.5,595.5 865.5,599.2 869.5,599.9 873.5,600.4 877.5,597.0 881.5,593.6 885.5,590.4 889.5,594.9 893.5,587.8 897.5,590.1 901.5,585.1 905.5,584.4 909.5,585.9 913.5,588.0 917.5,591.0 921.5,594.5 925.5,595.6 929.5,588.1 933.5,588.4 937.5,585.1 941.5,586.9 945.5,583.2 949.5,584.2 953.5,581.7 957.5,582.1 961.5,583.7 965.5,575.7 969.5,573.9 973.5,585.4 977.5,590.0 981.5,591.2 985.5,586.0 989.5,580.1 993.5,575.7 997.5,573.5 1001.5,571.9 1005.5,571.1 1009.5,571.1 1013.5,571.1 1017.5,571.5 1021.5,569.2 1025.5,565.0 1029.5,564.5 1033.5,564.5 1037.5,566.3 1041.5,563.2 1045.5,566.3 1049.5,576.2 1053.5,577.2 1057.5,577.2 1061.5,579.6 1065.5,577.7 1069.5,590.7 1073.5,593.2 1077.5,596.0 1081.5,601.5 1085.5,604.3 1089.5,604.3 1093.5,607.3 1097.5,612.2 1101.5,612.7 1105.5,614.4 1109.5,608.5 1113.5,600.5 1117.5,583.2 1121.5,583.5 1125.5,581.9 1129.5,588.0 1133.5,574.8 1137.5,570.4 1141.5,565.3 1145.5,564.4 1149.5,563.5 1153.5,568.9 1157.5,569.8 1161.5,572.4 1165.5,581.5 1169.5,586.0 1173.5,587.2 1177.5,582.2 1181.5,580.8 1185.5,578.1 1189.5,575.1 1193.5,572.4 1197.5,573.7 1201.5,573.2 1205.5,577.9 1209.5,577.4 1213.5,581.0 1217.5,582.1 1221.5,581.2 1225.5,579.5 1229.5,585.0 1233.5,578.2 1237.5,577.9 1241.5,580.6 1245.5,579.4 1249.5,580.0 1253.5,577.8 1257.5,576.3 1261.5,574.5 1265.5,572.8 1269.5,573.0" fill="none" stroke="#1e90ff" stroke-width="1"/>
</g>
<g clip-path="url(#cd)" shape-rendering="crispEdges">
<rect x="5" y="636" width="1" height="25" fill="#c0c0c0"/>
<rect x="9" y="635" width="1" height="26" fill="#c0c0c0"/>
<rect x="13" y="633" width="1" height="28" fill="#c0c0c0"/>
<rect x="17" y="633" width="1" height="28" fill="#c0c0c0"/>
<rect x="21" y="633" width="1" height="28" fill="#c0c0c0"/>
<rect x="25" y="633" width="1" height="28" fill="#c0c0c0"/>
<rect x="29" y="633" width="1" height="28" fill="#c0c0c0"/>
<rect x="33" y="636" width="1" height="25" fill="#c0c0c0"/>
<rect x="37" y="637" width="1" height="24" fill="#c0c0c0"/>
<rect x="41" y="638" width="1" height="23" fill="#c0c0c0"/>
<rect x="45" y="640" width="1" height="21" fill="#c0c0c0"/>
<rect x="49" y="641" width="1" height="20" fill="#c0c0c0"/>
<rect x="53" y="640" width="1" height="21" fill="#c0c0c0"/>
<rect x="57" y="641" width="1" height="20" fill="#c0c0c0"/>
<rect x="61" y="645" width="1" height="16" fill="#c0c0c0"/>
<rect x="65" y="648" width="1" height="13" fill="#c0c0c0"/>
<rect x="69" y="651" width="1" height="10" fill="#c0c0c0"/>
<rect x="73" y="655" width="1" height="6" fill="#c0c0c0"/>
<rect x="77" y="657" width="1" height="4" fill="#c0c0c0"/>
<rect x="81" y="659" width="1" height="2" fill="#c0c0c0"/>
<rect x="85" y="660" width="1" height="1" fill="#c0c0c0"/>
<rect x="89" y="660" width="1" height="2" fill="#c0c0c0"/>
<rect x="93" y="660" width="1" height="2" fill="#c0c0c0"/>
<rect x="97" y="660" width="1" height="4" fill="#c0c0c0"/>
<rect x="101" y="660" width="1" height="4" fill="#c0c0c0"/>
<rect x="105" y="660" width="1" height="4" fill="#c0c0c0"/>
<rect x="109" y="660" width="1" height="7" fill="#c0c0c0"/>
<rect x="113" y="660" width="1" height="10" fill="#c0c0c0"/>
<rect x="117" y="660" width="1" height="12" fill="#c0c0c0"/>
<rect x="121" y="660" width="1" height="13" fill="#c0c0c0"/>
<rect x="125" y="660" width="1" height="11" fill="#c0c0c0"/>
<rect x="129" y="660" width="1" height="11" fill="#c0c0c0"/>
<rect x="133" y="660" width="1" height="10" fill="#c0c0c0"/>
<rect x="137" y="660" width="1" height="11" fill="#c0c0c0"/>
<rect x="141" y="660" width="1" height="12" fill="#c0c0c0"/>
<rect x="145" y="660" width="1" height="14" fill="#c0c0c0"/>
<rect x="149" y="660" width="1" height="18" fill="#c0c0c0"/>
<rect x="153" y="660" width="1" height="21" fill="#c0c0c0"/>
<rect x="157" y="660" width="1" height="25" fill="#c0c0c0"/>
<rect x="161" y="660" width="1" height="28" fill="#c0c0c0"/>
<rect x="165" y="660" width="1" height="30" fill="#c0c0c0"/>
<rect x="169" y="660" width="1" height="30" fill="#c0c0c0"/>
<rect x="173" y="660" width="1" height="29" fill="#c0c0c0"/>
<rect x="177" y="660" width="1" height="27" fill="#c0c0c0"/>
<rect x="181" y="660" width="1" height="25" fill="#c0c0c0"/>
<rect x="185" y="660" width="1" height="21" fill="#c0c0c0"/>
<rect x="189" y="660" width="1" height="18" fill="#c0c0c0"/>
<rect x="193" y="660" width="1" height="16" fill="#c0c0c0"/>
<rect x="197" y="660" width="1" height="13" fill="#c0c0c0"/>
<rect x="201" y="660" width="1" height="13" fill="#c0c0c0"/>
<rect x="205" y="660" width="1" height="18" fill="#c0c0c0"/>
<rect x="209" y="660" width="1" height="23" fill="#c0c0c0"/>
<rect x="213" y="660" width="1" height="28" fill="#c0c0c0"/>
<rect x="217" y="660" width="1" height="33" fill="#c0c0c0"/>
<rect x="221" y="660" width="1" height="36" fill="#c0c0c0"/>
<rect x="225" y="660" width="1" height="37" fill="#c0c0c0"/>
<rect x="229" y="660" width="1" height="37" fill="#c0c0c0"/>
<rect x="233" y="660" width="1" height="37" fill="#c0c0c0"/>
<rect x="237" y="660" width="1" height="37" fill="#c0c0c0"/>
<rect x="241" y="660" width="1" height="32" fill="#c0c0c0"/>
<rect x="245" y="660" width="1" height="28" fill="#c0c0c0"/>
<rect x="249" y="660" width="1" height="24" fill="#c0c0c0"/>
<rect x="253" y="660" width="1" height="21" fill="#c0c0c0"/>
<rect x="257" y="660" width="1" height="16" fill="#c0c0c0"/>
<rect x="261" y="660" width="1" height="12" fill="#c0c0c0"/>
<rect x="265" y="660" width="1" height="8" fill="#c0c0c0"/>
<rect x="269" y="660" width="1" height="5" fill="#c0c0c0"/>
<rect x="273" y="660" width="1" height="4" fill="#c0c0c0"/>
<rect x="277" y="660" width="1" height="4" fill="#c0c0c0"/>
<rect x="281" y="660" width="1" height="5" fill="#c0c0c0"/>
<rect x="285" y="660" width="1" height="6" fill="#c0c0c0"/>
<rect x="289" y="660" width="1" height="7" fill="#c0c0c0"/>
<rect x="293" y="660" width="1" height="5" fill="#c0c0c0"/>
<rect x="297" y="660" width="1" height="4" fill="#c0c0c0"/>
<rect x="301" y="660" width="1" height="4" fill="#c0c0c0"/>
<rect x="305" y="660" width="1" height="6" fill="#c0c0c0"/>
<rect x="309" y="660" width="1" height="7" fill="#c0c0c0"/>
<rect x="313" y="660" width="1" height="9" fill="#c0c0c0"/>
<rect x="317" y="660" width="1" height="8" fill="#c0c0c0"/>
<rect x="321" y="660" width="1" height="8" fill="#c0c0c0"/>
<rect x="325" y="660" width="1" height="5" fill="#c0c0c0"/>
<rect x="329" y="660" width="1" height="2" fill="#c0c0c0"/>
<rect x="333" y="658" width="1" height="3" fill="#c0c0c0"/>
<rect x="337" y="657" width="1" height="4" fill="#c0c0c0"/>
<rect x="341" y="656" width="1" height="5" fill="#c0c0c0"/>
<rect x="345" y="656" width="1" height="5" fill="#c0c0c0"/>
<rect x="349" y="654" width="1" height="7" fill="#c0c0c0"/>
<rect x="353" y="658" width="1" height="3" fill="#c0c0c0"/>
<rect x="357" y="660" width="1" height="2" fill="#c0c0c0"/>
<rect x="361" y="660" width="1" height="8" fill="#c0c0c0"/>
<rect x="365" y="660" width="1" height="10" fill="#c0c0c0"/>
<rect x="369" y="660" width="1" height="15" fill="#c0c0c0"/>
<rect x="373" y="660" width="1" height="17" fill="#c0c0c0"/>
<rect x="377" y="660" width="1" height="20" fill="#c0c0c0"/>
<rect x="381" y="660" width="1" height="21" fill="#c0c0c0"/>
<rect x="385" y="660" width="1" height="23" fill="#c0c0c0"/>
<rect x="389" y="660" width="1" height="23" fill="#c0c0c0"/>
<rect x="393" y="660" width="1" height="22" fill="#c0c0c0"/>
<rect x="397" y="660" width="1" height="21" fill="#c0c0c0"/>
<rect x="401" y="660" width="1" height="18" fill="#c0c0c0"/>
<rect x="405" y="660" width="1" height="16" fill="#c0c0c0"/>
<rect x="409" y="660" width="1" height="13" fill="#c0c0c0"/>
<rect x="413" y="660" width="1" height="12" fill="#c0c0c0"/>
<rect x="417" y="660" width="1" height="9" fill="#c0c0c0"/>
<rect x="421" y="660" width="1" height="7" fill="#c0c0c0"/>
<rect x="425" y="660" width="1" height="8" fill="#c0c0c0"/>
<rect x="429" y="660" width="1" height="9" fill="#c0c0c0"/>
<rect x="433" y="660" width="1" height="9" fill="#c0c0c0"/>
<rect x="437" y="660" width="1" height="7" fill="#c0c0c0"/>
<rect x="441" y="660" width="1" height="5" fill="#c0c0c0"/>
<rect x="445" y="660" width="1" height="2" fill="#c0c0c0"/>
<rect x="449" y="657" width="1" height="4" fill="#c0c0c0"/>
<rect x="453" y="653" width="1" height="8" fill="#c0c0c0"/>
<rect x="457" y="651" width="1" height="10" fill="#c0c0c0"/>
<rect x="461" y="650" width="1" height="11" fill="#c0c0c0"/>
<rect x="465" y="652" width="1" height="9" fill="#c0c0c0"/>
<rect x="469" y="651" width="1" height="10" fill="#c0c0c0"/>
<rect x="473" y="651" width="1" height="10" fill="#c0c0c0"/>
<rect x="477" y="651" width="1" height="10" fill="#c0c0c0"/>
<rect x="481" y="649" width="1" height="12" fill="#c0c0c0"/>
<rect x="485" y="648" width="1" height="13" fill="#c0c0c0"/>
<rect x="489" y="646" width="1" height="15" fill="#c0c0c0"/>
<rect x="493" y="647" width="1" height="14" fill="#c0c0c0"/>
<rect x="497" y="647" width="1" height="14" fill="#c0c0c0"/>
<rect x="501" y="647" width="1" height="14" fill="#c0c0c0"/>
<rect x="505" y="647" width="1" height="14" fill="#c0c0c0"/>
<rect x="509" y="646" width="1" height="15" fill="#c0c0c0"/>
<rect x="513" y="645" width="1" height="16" fill="#c0c0c0"/>
<rect x="517" y="645" width="1" height="16" fill="#c0c0c0"/>
<rect x="521" y="646" width="1" height="15" fill="#c0c0c0"/>
<rect x="525" y="647" width="1" height="14" fill="#c0c0c0"/>
<rect x="529" y="648" width="1" height="13" fill="#c0c0c0"/>
<rect x="533" y="651" width="1" height="10" fill="#c0c0c0"/>
<rect x="537" y="651" width="1" height="10" fill="#c0c0c0"/>
<rect x="541" y="651" width="1" height="10" fill="#c0c0c0"/>
<rect x="545" y="651" width="1" height="10" fill="#c0c0c0"/>
<rect x="549" y="652" width="1" height="9" fill="#c0c0c0"/>
<rect x="553" y="650" width="1" height="11" fill="#c0c0c0"/>
<rect x="557" y="650" width="1" height="11" fill="#c0c0c0"/>
<rect x="561" y="648" width="1" height="13" fill="#c0c0c0"/>
<rect x="565" y="648" width="1" height="13" fill="#c0c0c0"/>
<rect x="569" y="648" width="1" height="13" fill="#c0c0c0"/>
<rect x="573" y="648" width="1" height="13" fill="#c0c0c0"/>
<rect x="577" y="649" width="1" height="12" fill="#c0c0c0"/>
<rect x="581" y="650" width="1" height="11" fill="#c0c0c0"/>
<rect x="585" y="650" width="1" height="11" fill="#c0c0c0"/>
<rect x="589" y="651" width="1" height="10" fill="#c0c0c0"/>
<rect x="593" y="650" width="1" height="11" fill="#c0c0c0"/>
<rect x="597" y="650" width="1" height="11" fill="#c0c0c0"/>
<rect x="601" y="650" width="1" height="11" fill="#c0c0c0"/>
<rect x="605" y="650" width="1" height="11" fill="#c0c0c0"/>
<rect x="609" y="651" width="1" height="10" fill="#c0c0c0"/>
<rect x="613" y="655" width="1" height="6" fill="#c0c0c0"/>
<rect x="617" y="659" width="1" height="2" fill="#c0c0c0"/>
<rect x="621" y="660" width="1" height="3" fill="#c0c0c0"/>
<rect x="625" y="660" width="1" height="5" fill="#c0c0c0"/>
<rect x="629" y="660" width="1" height="6" fill="#c0c0c0"/>
<rect x="633" y="660" width="1" height="5" fill="#c0c0c0"/>
<rect x="637" y="660" width="1" height="4" fill="#c0c0c0"/>
<rect x="641" y="660" width="1" height="3" fill="#c0c0c0"/>
<rect x="645" y="660" width="1" height="1" fill="#c0c0c0"/>
<rect x="649" y="659" width="1" height="2" fill="#c0c0c0"/>
<rect x="653" y="658" width="1" height="3" fill="#c0c0c0"/>
<rect x="657" y="659" width="1" height="2" fill="#c0c0c0"/>
<rect x="661" y="660" width="1" height="3" fill="#c0c0c0"/>
<rect x="665" y="660" width="1" height="5" fill="#c0c0c0"/>
<rect x="669" y="660" width="1" height="7" fill="#c0c0c0"/>
<rect x="673" y="660" width="1" height="8" fill="#c0c0c0"/>
<rect x="677" y="660" width="1" height="6" fill="#c0c0c0"/>
<rect x="681" y="660" width="1" height="5" fill="#c0c0c0"/>
<rect x="685" y="660" width="1" height="3" fill="#c0c0c0"/>
<rect x="689" y="659" width="1" height="2" fill="#c0c0c0"/>
<rect x="693" y="657" width="1" height="4" fill="#c0c0c0"/>
<rect x="697" y="656" width="1" height="5" fill="#c0c0c0"/>
<rect x="701" y="656" width="1" height="5" fill="#c0c0c0"/>
<rect x="705" y="658" width="1" height="3" fill="#c0c0c0"/>
<rect x="709" y="660" width="1" height="1" fill="#c0c0c0"/>
<rect x="713" y="660" width="1" height="2" fill="#c0c0c0"/>
<rect x="717" y="660" width="1" height="2" fill="#c0c0c0"/>
<rect x="721" y="660" width="1" height="4" fill="#c0c0c0"/>
<rect x="725" y="660" width="1" height="4" fill="#c0c0c0"/>
<rect x="729" y="660" width="1" height="3" fill="#c0c0c0"/>
<rect x="733" y="660" width="1" height="3" fill="#c0c0c0"/>
<rect x="737" y="660" width="1" height="1" fill="#c0c0c0"/>
<rect x="741" y="657" width="1" height="4" fill="#c0c0c0"/>
<rect x="745" y="656" width="1" height="5" fill="#c0c0c0"/>
<rect x="749" y="654" width="1" height="7" fill="#c0c0c0"/>
<rect x="753" y="652" width="1" height="9" fill="#c0c0c0"/>
<rect x="757" y="652" width="1" height="9" fill="#c0c0c0"/>
<rect x="761" y="650" width="1" height="11" fill="#c0c0c0"/>
<rect x="765" y="650" width="1" height="11" fill="#c0c0c0"/>
<rect x="769" y="652" width="1" height="9" fill="#c0c0c0"/>
<rect x="773" y="656" width="1" height="5" fill="#c0c0c0"/>
<rect x="777" y="659" width="1" height="2" fill="#c0c0c0"/>
<rect x="781" y="660" width="1" height="2" fill="#c0c0c0"/>
<rect x="785" y="660" width="1" height="3" fill="#c0c0c0"/>
<rect x="789" y="660" width="1" height="4" fill="#c0c0c0"/>
<rect x="793" y="660" width="1" height="5" fill="#c0c0c0"/>
<rect x="797" y="660" width="1" height="7" fill="#c0c0c0"/>
<rect x="801" y="660" width="1" height="8" fill="#c0c0c0"/>
<rect x="805" y="660" width="1" height="9" fill="#c0c0c0"/>
<rect x="809" y="660" width="1" height="11" fill="#c0c0c0"/>
<rect x="813" y="660" width="1" height="12" fill="#c0c0c0"/>
<rect x="817" y="660" width="1" height="13" fill="#c0c0c0"/>
<rect x="821" y="660" width="1" height="15" fill="#c0c0c0"/>
<rect x="825" y="660" width="1" height="16" fill="#c0c0c0"/>
<rect x="829" y="660" width="1" height="18" fill="#c0c0c0"/>
<rect x="833" y="660" width="1" height="18" fill="#c0c0c0"/>
<rect x="837" y="660" width="1" height="17" fill="#c0c0c0"/>
<rect x="841" y="660" width="1" height="16" fill="#c0c0c0"/>
<rect x="845" y="660" width="1" height="16" fill="#c0c0c0"/>
<rect x="849" y="660" width="1" height="17" fill="#c0c0c0"/>
<rect x="853" y="660" width="1" height="16" fill="#c0c0c0"/>
<rect x="857" y="660" width="1" height="18" fill="#c0c0c0"/>
<rect x="861" y="660" width="1" height="20" fill="#c0c0c0"/>
<rect x="865" y="660" width="1" height="23" fill="#c0c0c0"/>
<rect x="869" y="660" width="1" height="25" fill="#c0c0c0"/>
<rect x="873" y="660" width="1" height="27" fill="#c0c0c0"/>
<rect x="877" y="660" width="1" height="28" fill="#c0c0c0"/>
<rect x="881" y="660" width="1" height="27" fill="#c0c0c0"/>
<rect x="885" y="660" width="1" height="26" fill="#c0c0c0"/>
<rect x="889" y="660" width="1" height="26" fill="#c0c0c0"/>
<rect x="893" y="660" width="1" height="25" fill="#c0c0c0"/>
<rect x="897" y="660" width="1" height="24" fill="#c0c0c0"/>
<rect x="901" y="660" width="1" height="22" fill="#c0c0c0"/>
<rect x="905" y="660" width="1" height="20" fill="#c0c0c0"/>
<rect x="909" y="660" width="1" height="19" fill="#c0c0c0"/>
<rect x="913" y="660" width="1" height="18" fill="#c0c0c0"/>
<rect x="917" y="660" width="1" height="18" fill="#c0c0c0"/>
<rect x="921" y="660" width="1" height="20" fill="#c0c0c0"/>
<rect x="925" y="660" width="1" height="21" fill="#c0c0c0"/>
<rect x="929" y="660" width="1" height="20" fill="#c0c0c0"/>
<rect x="933" y="660" width="1" height="20" fill="#c0c0c0"/>
<rect x="937" y="660" width="1" height="18" fill="#c0c0c0"/>
<rect x="941" y="660" width="1" height="17" fill="#c0c0c0"/>
<rect x="945" y="660" width="1" height="16" fill="#c0c0c0"/>
<rect x="949" y="660" width="1" height="14" fill="#c0c0c0"/>
<rect x="953" y="660" width="1" height="13" fill="#c0c0c0"/>
<rect x="957" y="660" width="1" height="11" fill="#c0c0c0"/>
<rect x="961" y="660" width="1" height="11" fill="#c0c0c0"/>
<rect x="965" y="660" width="1" height="8" fill="#c0c0c0"/>
<rect x="969" y="660" width="1" height="6" fill="#c0c0c0"/>
<rect x="973" y="660" width="1" height="7" fill="#c0c0c0"/>
<rect x="977" y="660" width="1" height="9" fill="#c0c0c0"/>
<rect x="981" y="660" width="1" height="11" fill="#c0c0c0"/>
<rect x="985" y="660" width="1" height="11" fill="#c0c0c0"/>
<rect x="989" y="660" width="1" height="10" fill="#c0c0c0"/>
<rect x="993" y="660" width="1" height="7" fill="#c0c0c0"/>
<rect x="997" y="660" width="1" height="4" fill="#c0c0c0"/>
<rect x="1001" y="660" width="1" height="1" fill="#c0c0c0"/>
<rect x="1005" y="658" width="1" height="3" fill="#c0c0c0"/>
<rect x="1009" y="656" width="1" height="5" fill="#c0c0c0"/>
<rect x="1013" y="655" width="1" height="6" fill="#c0c0c0"/>
<rect x="1017" y="654" width="1" height="7" fill="#c0c0c0"/>
<rect x="1021" y="652" width="1" height="9" fill="#c0c0c0"/>
<rect x="1025" y="650" width="1" height="11" fill="#c0c0c0"/>
<rect x="1029" y="648" width="1" height="13" fill="#c0c0c0"/>
<rect x="1033" y="647" width="1" height="14" fill="#c0c0c0"/>
<rect x="1037" y="646" width="1" height="15" fill="#c0c0c0"/>
<rect x="1041" y="645" width="1" height="16" fill="#c0c0c0"/>
<rect x="1045" y="645" width="1" height="16" fill="#c0c0c0"/>
<rect x="1049" y="646" width="1" height="15" fill="#c0c0c0"/>
<rect x="1053" y="648" width="1" height="13" fill="#c0c0c0"/>
<rect x="1057" y="649" width="1" height="12" fill="#c0c0c0"/>
<rect x="1061" y="651" width="1" height="10" fill="#c0c0c0"/>
<rect x="1065" y="652" width="1" height="9" fill="#c0c0c0"/>
<rect x="1069" y="656" width="1" height="5" fill="#c0c0c0"/>
<rect x="1073" y="660" width="1" height="1" fill="#c0c0c0"/>
<rect x="1077" y="660" width="1" height="5" fill="#c0c0c0"/>
<rect x="1081" y="660" width="1" height="11" fill="#c0c0c0"/>
<rect x="1085" y="660" width="1" height="17" fill="#c0c0c0"/>
<rect x="1089" y="660" width="1" height="21" fill="#c0c0c0"/>
<rect x="1093" y="660" width="1" height="26" fill="#c0c0c0"/>
<rect x="1097" y="660" width="1" height="35" fill="#c0c0c0"/>
<rect x="1101" y="660" width="1" height="43" fill="#c0c0c0"/>
<rect x="1105" y="660" width="1" height="51" fill="#c0c0c0"/>
<rect x="1109" y="660" width="1" height="55" fill="#c0c0c0"/>
<rect x="1113" y="660" width="1" height="55" fill="#c0c0c0"/>
<rect x="1117" y="660" width="1" height="49" fill="#c0c0c0"/>
<rect x="1121" y="660" width="1" height="43" fill="#c0c0c0"/>
<rect x="1125" y="660" width="1" height="38" fill="#c0c0c0"/>
<rect x="1129" y="660" width="1" height="37" fill="#c0c0c0"/>
<rect x="1133" y="660" width="1" height="28" fill="#c0c0c0"/>
<rect x="1137" y="660" width="1" height="17" fill="#c0c0c0"/>
<rect x="1141" y="660" width="1" height="4" fill="#c0c0c0"/>
<rect x="1145" y="652" width="1" height="9" fill="#c0c0c0"/>
<rect x="1149" y="643" width="1" height="18" fill="#c0c0c0"/>
<rect x="1153" y="638" width="1" height="23" fill="#c0c0c0"/>
<rect x="1157" y="635" width="1" height="26" fill="#c0c0c0"/>
<rect x="1161" y="634" width="1" height="27" fill="#c0c0c0"/>
<rect x="1165" y="640" width="1" height="21" fill="#c0c0c0"/>
<rect x="1169" y="648" width="1" height="13" fill="#c0c0c0"/>
<rect x="1173" y="655" width="1" height="6" fill="#c0c0c0"/>
<rect x="1177" y="658" width="1" height="3" fill="#c0c0c0"/>
<rect x="1181" y="659" width="1" height="2" fill="#c0c0c0"/>
<rect x="1185" y="658" width="1" height="3" fill="#c0c0c0"/>
<rect x="1189" y="655" width="1" height="6" fill="#c0c0c0"/>
<rect x="1193" y="651" width="1" height="10" fill="#c0c0c0"/>
<rect x="1197" y="649" width="1" height="12" fill="#c0c0c0"/>
<rect x="1201" y="647" width="1" height="14" fill="#c0c0c0"/>
<rect x="1205" y="648" width="1" height="13" fill="#c0c0c0"/>
<rect x="1209" y="649" width="1" height="12" fill="#c0c0c0"/>
<rect x="1213" y="651" width="1" height="10" fill="#c0c0c0"/>
<rect x="1217" y="654" width="1" height="7" fill="#c0c0c0"/>
<rect x="1221" y="656" width="1" height="5" fill="#c0c0c0"/>
<rect x="1225" y="657" width="1" height="4" fill="#c0c0c0"/>
<rect x="1229" y="660" width="1" height="1" fill="#c0c0c0"/>
<rect x="1233" y="659" width="1" height="2" fill="#c0c0c0"/>
<rect x="1237" y="659" width="1" height="2" fill="#c0c0c0"/>
<rect x="1241" y="659" width="1" height="2" fill="#c0c0c0"/>
<rect x="1245" y="659" width="1" height="2" fill="#c0c0c0"/>
<rect x="1249" y="660" width="1" height="1" fill="#c0c0c0"/>
<rect x="1253" y="659" width="1" height="2" fill="#c0c0c0"/>
<rect x="1257" y="658" width="1" height="3" fill="#c0c0c0"/>
<rect x="1261" y="656" width="1" height="5" fill="#c0c0c0"/>
<rect x="1265" y="654" width="1" height="7" fill="#c0c0c0"/>
<rect x="1269" y="652" width="1" height="9" fill="#c0c0c0"/>
<polyline points="5.5,647.4 9.5,645.2 13.5,643.0 17.5,640.8 21.5,638.8 25.5,637.1 29.5,635.7 33.5,635.1 37.5,634.9 41.5,635.2 45.5,635.7 49.5,636.5 53.5,637.3 57.5,638.3 61.5,639.6 65.5,641.2 69.5,642.8 73.5,644.8 77.5,646.9 81.5,649.1 85.5,651.3 89.5,653.6 93.5,655.8 97.5,657.8 101.5,659.4 105.5,660.8 109.5,662.0 113.5,663.3 117.5,664.6 121.5,665.8 125.5,666.9 129.5,667.8 133.5,668.4 137.5,669.2 141.5,670.1 145.5,670.9 149.5,671.8 153.5,672.8 157.5,674.1 161.5,676.0 165.5,678.1 169.5,680.4 173.5,682.5 177.5,684.1 181.5,685.3 185.5,685.7 189.5,685.4 193.5,684.5 197.5,682.9 201.5,681.0 205.5,679.6 209.5,679.0 213.5,679.0 217.5,679.9 221.5,681.5 225.5,683.6 229.5,685.9 233.5,688.5 237.5,691.2 241.5,692.7 245.5,693.3 249.5,692.9 253.5,691.6 257.5,689.4 261.5,686.6 265.5,683.4 269.5,679.8 273.5,676.1 277.5,673.0 281.5,670.5 285.5,668.5 289.5,666.8 293.5,665.6 297.5,664.8 301.5,664.4 305.5,664.5 309.5,664.9 313.5,665.5 317.5,665.8 321.5,666.0 325.5,665.8 329.5,665.5 333.5,664.8 337.5,664.1 341.5,663.1 345.5,661.9 349.5,660.4 353.5,659.4 357.5,658.7 361.5,659.0 365.5,660.0 369.5,661.8 373.5,663.9 377.5,666.4 381.5,669.1 385.5,672.2 389.5,674.8 393.5,677.1 397.5,678.5 401.5,679.4 405.5,679.5 409.5,679.1 413.5,678.2 417.5,676.8 421.5,675.0 425.5,673.4 429.5,671.9 433.5,670.6 437.5,669.4 441.5,668.2 445.5,667.0 449.5,665.5 453.5,663.8 457.5,662.2 461.5,660.3 465.5,658.5 469.5,656.7 473.5,655.1 477.5,653.6 481.5,652.3 485.5,651.3 489.5,650.5 493.5,650.0 497.5,649.7 501.5,649.2 505.5,648.6 509.5,648.1 513.5,647.5 517.5,647.1 521.5,646.8 525.5,646.8 529.5,647.0 533.5,647.4 537.5,647.8 541.5,648.3 545.5,648.8 549.5,649.6 553.5,650.0 557.5,650.5 561.5,650.7 565.5,650.6 569.5,650.3 573.5,649.9 577.5,649.7 581.5,649.6 585.5,649.4 589.5,649.5 593.5,649.6 597.5,649.8 601.5,650.0 605.5,650.3 609.5,650.5 613.5,651.2 617.5,652.2 621.5,653.5 625.5,655.0 629.5,656.6 633.5,658.2 637.5,659.7 641.5,661.0 645.5,662.1 649.5,662.5 653.5,662.5 657.5,662.1 661.5,661.9 665.5,661.8 669.5,662.0 673.5,662.3 677.5,662.7 681.5,663.1 685.5,663.4 689.5,663.5 693.5,663.2 697.5,662.6 701.5,661.7 705.5,660.8 709.5,660.1 713.5,659.6 717.5,659.3 721.5,659.5 725.5,659.9 729.5,660.5 733.5,661.1 737.5,661.6 741.5,661.5 745.5,661.1 749.5,660.3 753.5,659.3 757.5,658.0 761.5,656.6 765.5,655.2 769.5,654.1 773.5,653.7 777.5,653.9 781.5,654.5 785.5,655.4 789.5,656.6 793.5,658.0 797.5,659.7 801.5,661.7 805.5,663.5 809.5,665.0 813.5,666.4 817.5,667.5 821.5,668.9 825.5,670.2 829.5,671.6 833.5,672.8 837.5,673.8 841.5,674.6 845.5,675.2 849.5,675.7 853.5,676.0 857.5,676.3 861.5,676.7 865.5,677.3 869.5,678.1 873.5,679.2 877.5,680.4 881.5,681.6 885.5,682.6 889.5,683.8 893.5,684.6 897.5,685.1 901.5,685.0 905.5,684.4 909.5,683.5 913.5,682.4 917.5,681.5 921.5,680.8 925.5,680.2 929.5,679.8 933.5,679.3 937.5,678.8 941.5,678.5 945.5,678.2 949.5,677.8 953.5,677.2 957.5,676.2 961.5,675.1 965.5,673.7 969.5,672.2 973.5,670.9 977.5,670.0 981.5,669.4 985.5,669.1 989.5,668.7 993.5,668.2 997.5,667.5 1001.5,666.8 1005.5,666.0 1009.5,665.0 1013.5,663.5 1017.5,661.7 1021.5,659.7 1025.5,657.7 1029.5,655.7 1033.5,653.9 1037.5,652.3 1041.5,650.9 1045.5,649.6 1049.5,648.7 1053.5,648.1 1057.5,647.8 1061.5,647.9 1065.5,648.3 1069.5,649.4 1073.5,650.9 1077.5,653.0 1081.5,655.8 1085.5,659.0 1089.5,662.6 1093.5,666.6 1097.5,671.4 1101.5,676.9 1105.5,682.9 1109.5,688.8 1113.5,694.4 1117.5,698.6 1121.5,701.6 1125.5,703.5 1129.5,704.6 1133.5,703.7 1137.5,700.9 1141.5,695.8 1145.5,688.9 1149.5,680.9 1153.5,673.2 1157.5,665.7 1161.5,658.8 1165.5,652.6 1169.5,648.2 1173.5,645.9 1177.5,645.3 1181.5,646.0 1185.5,647.8 1189.5,649.7 1193.5,651.5 1197.5,653.1 1201.5,653.9 1205.5,653.9 1209.5,653.2 1213.5,652.5 1217.5,651.9 1221.5,651.7 1225.5,651.8 1229.5,652.8 1233.5,653.9 1237.5,655.2 1241.5,656.5 1245.5,657.7 1249.5,658.7 1253.5,659.2 1257.5,659.4 1261.5,659.3 1265.5,658.6 1269.5,657.8" fill="none" stroke="#ff0000" stroke-width="1" stroke-dasharray="3,3"/>
</g>
<rect x="4" y="25" width="1594" height="1" fill="#000"/>
<rect x="4" y="531" width="1594" height="1" fill="#000"/>
<rect x="4" y="25" width="1" height="507" fill="#000"/>
<rect x="1597" y="25" width="1" height="507" fill="#000"/>
<rect x="4" y="533" width="1594" height="1" fill="#000"/>
<rect x="4" y="625" width="1594" height="1" fill="#000"/>
<rect x="4" y="533" width="1" height="93" fill="#000"/>
<rect x="1597" y="533" width="1" height="93" fill="#000"/>
<rect x="4" y="627" width="1594" height="1" fill="#000"/>
<rect x="4" y="719" width="1594" height="1" fill="#000"/>
<rect x="4" y="627" width="1" height="93" fill="#000"/>
<rect x="1597" y="627" width="1" height="93" fill="#000"/>
<rect x="1597" y="101" width="1" height="2" fill="#ff0000"/>
<rect x="1597" y="163" width="1" height="2" fill="#ff0000"/>
<rect x="1597" y="212" width="1" height="2" fill="#ff0000"/>
<rect x="1597" y="258" width="1" height="2" fill="#ff0000"/>
<rect x="1597" y="296" width="1" height="2" fill="#00ff00"/>
<rect x="1597" y="347" width="1" height="2" fill="#0000ff"/>
<rect x="1597" y="403" width="1" height="2" fill="#0000ff"/>
<rect x="1597" y="465" width="1" height="2" fill="#0000ff"/>
<rect x="1598" y="33" width="2" height="1" fill="#000"/>
<text x="1603" y="37" font-size="9.5" letter-spacing="-0.2" stroke-width="0.3" paint-order="stroke" fill="#000" stroke="#000">1.02750</text>
<rect x="1598" y="66" width="2" height="1" fill="#000"/>
<text x="1603" y="70" font-size="9.5" letter-spacing="-0.2" stroke-width="0.3" paint-order="stroke" fill="#000" stroke="#000">1.02010</text>
<rect x="1598" y="99" width="2" height="1" fill="#000"/>
<text x="1603" y="103" font-size="9.5" letter-spacing="-0.2" stroke-width="0.3" paint-order="stroke" fill="#000" stroke="#000">1.01270</text>
<rect x="1598" y="132" width="2" height="1" fill="#000"/>
<text x="1603" y="136" font-size="9.5" letter-spacing="-0.2" stroke-width="0.3" paint-order="stroke" fill="#000" stroke="#000">1.00530</text>
<rect x="1598" y="165" width="2" height="1" fill="#000"/>
<text x="1603" y="169" font-size="9.5" letter-spacing="-0.2" stroke-width="0.3" paint-order="stroke" fill="#000" stroke="#000">0.99790</text>
<rect x="1598" y="198" width="2" height="1" fill="#000"/>
<text x="1603" y="202" font-size="9.5" letter-spacing="-0.2" stroke-width="0.3" paint-order="stroke" fill="#000" stroke="#000">0.99030</text>
<rect x="1598" y="231" width="2" height="1" fill="#000"/>
<text x="1603" y="235" font-size="9.5" letter-spacing="-0.2" stroke-width="0.3" paint-order="stroke" fill="#000" stroke="#000">0.98290</text>
<rect x="1598" y="264" width="2" height="1" fill="#000"/>
<text x="1603" y="268" font-size="9.5" letter-spacing="-0.2" stroke-width="0.3" paint-order="stroke" fill="#000" stroke="#000">0.97550</text>
<rect x="1598" y="297" width="2" height="1" fill="#000"/>
<text x="1603" y="301" font-size="9.5" letter-spacing="-0.2" stroke-width="0.3" paint-order="stroke" fill="#000" stroke="#000">0.96810</text>
<rect x="1598" y="330" width="2" height="1" fill="#000"/>
<text x="1603" y="334" font-size="9.5" letter-spacing="-0.2" stroke-width="0.3" paint-order="stroke" fill="#000" stroke="#000">0.96070</text>
<rect x="1598" y="363" width="2" height="1" fill="#000"/>
<text x="1603" y="367" font-size="9.5" letter-spacing="-0.2" stroke-width="0.3" paint-order="stroke" fill="#000" stroke="#000">0.95330</text>
<rect x="1598" y="396" width="2" height="1" fill="#000"/>
<text x="1603" y="400" font-size="9.5" letter-spacing="-0.2" stroke-width="0.3" paint-order="stroke" fill="#000" stroke="#000">0.94570</text>
<rect x="1598" y="429" width="2" height="1" fill="#000"/>
<text x="1603" y="433" font-size="9.5" letter-spacing="-0.2" stroke-width="0.3" paint-order="stroke" fill="#000" stroke="#000">0.93830</text>
<rect x="1598" y="462" width="2" height="1" fill="#000"/>
<text x="1603" y="466" font-size="9.5" letter-spacing="-0.2" stroke-width="0.3" paint-order="stroke" fill="#000" stroke="#000">0.93090</text>
<rect x="1598" y="495" width="2" height="1" fill="#000"/>
<text x="1603" y="499" font-size="9.5" letter-spacing="-0.2" stroke-width="0.3" paint-order="stroke" fill="#000" stroke="#000">0.92350</text>
<rect x="1598" y="528" width="2" height="1" fill="#000"/>
<text x="1603" y="532" font-size="9.5" letter-spacing="-0.2" stroke-width="0.3" paint-order="stroke" fill="#000" stroke="#000">0.91610</text>
<rect x="1599" y="264" width="41" height="8" fill="#000"/>
<text x="1603" y="271" font-size="9.5" letter-spacing="-0.2" stroke-width="0.3" paint-order="stroke" fill="#fff" stroke="#fff">0.97501</text>
<rect x="1599" y="96" width="41" height="11" fill="#ff0000"/>
<text x="1603" y="105" font-size="9.5" letter-spacing="-0.2" stroke-width="0.3" paint-order="stroke" fill="#fff" stroke="#fff">1.01207</text>
<rect x="1599" y="158" width="41" height="11" fill="#ff0000"/>
<text x="1603" y="167" font-size="9.5" letter-spacing="-0.2" stroke-width="0.3" paint-order="stroke" fill="#fff" stroke="#fff">0.99800</text>
<rect x="1599" y="207" width="41" height="11" fill="#ff0000"/>
<text x="1603" y="216" font-size="9.5" letter-spacing="-0.2" stroke-width="0.3" paint-order="stroke" fill="#fff" stroke="#fff">0.98703</text>
<rect x="1599" y="253" width="41" height="11" fill="#ff0000"/>
<text x="1603" y="262" font-size="9.5" letter-spacing="-0.2" stroke-width="0.3" paint-order="stroke" fill="#fff" stroke="#fff">0.97658</text>
<rect x="1599" y="291" width="41" height="11" fill="#00ff00"/>
<text x="1603" y="300" font-size="9.5" letter-spacing="-0.2" stroke-width="0.3" paint-order="stroke" fill="#fff" stroke="#fff">0.96803</text>
<rect x="1599" y="342" width="41" height="11" fill="#0000ff"/>
<text x="1603" y="351" font-size="9.5" letter-spacing="-0.2" stroke-width="0.3" paint-order="stroke" fill="#fff" stroke="#fff">0.95663</text>
<rect x="1599" y="398" width="41" height="11" fill="#0000ff"/>
<text x="1603" y="407" font-size="9.5" letter-spacing="-0.2" stroke-width="0.3" paint-order="stroke" fill="#fff" stroke="#fff">0.94404</text>
<rect x="1599" y="460" width="41" height="11" fill="#0000ff"/>
<text x="1603" y="469" font-size="9.5" letter-spacing="-0.2" stroke-width="0.3" paint-order="stroke" fill="#fff" stroke="#fff">0.93011</text>
<rect x="1598" y="534" width="2" height="1" fill="#000"/>
<rect x="1598" y="561" width="2" height="1" fill="#000"/>
<rect x="1598" y="597" width="2" height="1" fill="#000"/>
<rect x="1598" y="624" width="2" height="1" fill="#000"/>
<text x="1601" y="545" font-size="9.5" letter-spacing="-0.2" stroke-width="0.3" paint-order="stroke" fill="#000" stroke="#000">100</text>
<text x="1601" y="566" font-size="9.5" letter-spacing="-0.2" stroke-width="0.3" paint-order="stroke" fill="#000" stroke="#000">70</text>
<text x="1601" y="602" font-size="9.5" letter-spacing="-0.2" stroke-width="0.3" paint-order="stroke" fill="#000" stroke="#000">30</text>
<text x="1601" y="622" font-size="9.5" letter-spacing="-0.2" stroke-width="0.3" paint-order="stroke" fill="#000" stroke="#000">0</text>
<rect x="1598" y="629" width="2" height="1" fill="#000"/>
<rect x="1598" y="660" width="2" height="1" fill="#000"/>
<rect x="1598" y="718" width="2" height="1" fill="#000"/>
<text x="1601.5" y="638" font-size="9.5" letter-spacing="-0.2" stroke-width="0.3" paint-order="stroke" fill="#000" stroke="#000">0.006167</text>
<text x="1601.5" y="664" font-size="9.5" letter-spacing="-0.2" stroke-width="0.3" paint-order="stroke" fill="#000" stroke="#000">0.00</text>
<text x="1601" y="716" font-size="9.5" letter-spacing="-0.2" stroke-width="0.3" paint-order="stroke" fill="#000" stroke="#000">-0.011531</text>
<rect x="5" y="720" width="1" height="3" fill="#000"/>
<text x="3.8" y="732" font-size="10" textLength="51.3" lengthAdjust="spacing" stroke-width="0.25" paint-order="stroke" fill="#000" stroke="#000">23 Apr 2019</text>
<rect x="69" y="720" width="1" height="3" fill="#000"/>
<text x="67.8" y="732" font-size="10" textLength="55.3" lengthAdjust="spacing" stroke-width="0.25" paint-order="stroke" fill="#000" stroke="#000">11 May 2019</text>
<rect x="133" y="720" width="1" height="3" fill="#000"/>
<text x="131.8" y="732" font-size="10" textLength="55.7" lengthAdjust="spacing" stroke-width="0.25" paint-order="stroke" fill="#000" stroke="#000">30 May 2019</text>
<rect x="197" y="720" width="1" height="3" fill="#000"/>
<text x="196.2" y="732" font-size="10" textLength="50.1" lengthAdjust="spacing" stroke-width="0.25" paint-order="stroke" fill="#000" stroke="#000">18 Jun 2019</text>
<rect x="261" y="720" width="1" height="3" fill="#000"/>
<text x="259.6" y="732" font-size="10" textLength="42.6" lengthAdjust="spacing" stroke-width="0.25" paint-order="stroke" fill="#000" stroke="#000">6 Jul 2019</text>
<rect x="325" y="720" width="1" height="3" fill="#000"/>
<text x="323.8" y="732" font-size="10" textLength="47.3" lengthAdjust="spacing" stroke-width="0.25" paint-order="stroke" fill="#000" stroke="#000">25 Jul 2019</text>
<rect x="389" y="720" width="1" height="3" fill="#000"/>
<text x="387.8" y="732" font-size="10" textLength="53.3" lengthAdjust="spacing" stroke-width="0.25" paint-order="stroke" fill="#000" stroke="#000">13 Aug 2019</text>
<rect x="453" y="720" width="1" height="3" fill="#000"/>
<text x="451.8" y="732" font-size="10" textLength="53.3" lengthAdjust="spacing" stroke-width="0.25" paint-order="stroke" fill="#000" stroke="#000">31 Aug 2019</text>
<rect x="517" y="720" width="1" height="3" fill="#000"/>
<text x="516.2" y="732" font-size="10" textLength="52.1" lengthAdjust="spacing" stroke-width="0.25" paint-order="stroke" fill="#000" stroke="#000">19 Sep 2019</text>
<rect x="581" y="720" width="1" height="3" fill="#000"/>
<text x="579.6" y="732" font-size="10" textLength="46.6" lengthAdjust="spacing" stroke-width="0.25" paint-order="stroke" fill="#000" stroke="#000">8 Oct 2019</text>
<rect x="645" y="720" width="1" height="3" fill="#000"/>
<text x="643.3" y="732" font-size="10" textLength="51.7" lengthAdjust="spacing" stroke-width="0.25" paint-order="stroke" fill="#000" stroke="#000">26 Oct 2019</text>
<rect x="709" y="720" width="1" height="3" fill="#000"/>
<text x="707.6" y="732" font-size="10" textLength="54.6" lengthAdjust="spacing" stroke-width="0.25" paint-order="stroke" fill="#000" stroke="#000">14 Nov 2019</text>
<rect x="773" y="720" width="1" height="3" fill="#000"/>
<text x="771.8" y="732" font-size="10" textLength="47.6" lengthAdjust="spacing" stroke-width="0.25" paint-order="stroke" fill="#000" stroke="#000">3 Dec 2019</text>
<rect x="837" y="720" width="1" height="3" fill="#000"/>
<text x="835.6" y="732" font-size="10" textLength="52.1" lengthAdjust="spacing" stroke-width="0.25" paint-order="stroke" fill="#000" stroke="#000">21 Dec 2019</text>
<rect x="901" y="720" width="1" height="3" fill="#000"/>
<text x="899.8" y="732" font-size="10" textLength="44.9" lengthAdjust="spacing" stroke-width="0.25" paint-order="stroke" fill="#000" stroke="#000">9 Jan 2020</text>
<rect x="965" y="720" width="1" height="3" fill="#000"/>
<text x="964.4" y="732" font-size="10" textLength="49.7" lengthAdjust="spacing" stroke-width="0.25" paint-order="stroke" fill="#000" stroke="#000">28 Jan 2020</text>
<rect x="1029" y="720" width="1" height="3" fill="#000"/>
<text x="1027.9" y="732" font-size="10" textLength="52.4" lengthAdjust="spacing" stroke-width="0.25" paint-order="stroke" fill="#000" stroke="#000">15 Feb 2020</text>
<rect x="1093" y="720" width="1" height="3" fill="#000"/>
<text x="1091.6" y="732" font-size="10" textLength="47.9" lengthAdjust="spacing" stroke-width="0.25" paint-order="stroke" fill="#000" stroke="#000">5 Mar 2020</text>
<rect x="1157" y="720" width="1" height="3" fill="#000"/>
<text x="1155.6" y="732" font-size="10" textLength="52.2" lengthAdjust="spacing" stroke-width="0.25" paint-order="stroke" fill="#000" stroke="#000">24 Mar 2020</text>
<rect x="1221" y="720" width="1" height="3" fill="#000"/>
<text x="1219.6" y="732" font-size="10" textLength="51.7" lengthAdjust="spacing" stroke-width="0.25" paint-order="stroke" fill="#000" stroke="#000">11 Apr 2020</text>
<polygon points="8,32 15,32 11.5,36" fill="#000"/>
<text x="20.5" y="37" font-size="10" textLength="64" lengthAdjust="spacingAndGlyphs" fill="#000">USDCHF,Daily</text>
<text x="91.0" y="37" font-size="10" textLength="32.5" lengthAdjust="spacingAndGlyphs" fill="#000">0.97504</text>
<text x="127.1" y="37" font-size="10" textLength="32.5" lengthAdjust="spacingAndGlyphs" fill="#000">0.97624</text>
<text x="163.2" y="37" font-size="10" textLength="32.5" lengthAdjust="spacingAndGlyphs" fill="#000">0.97469</text>
<text x="199.3" y="37" font-size="10" textLength="32.5" lengthAdjust="spacingAndGlyphs" fill="#000">0.97501</text>
<text x="9.3" y="546" font-size="10" textLength="67.2" lengthAdjust="spacingAndGlyphs" fill="#000">RSI(14) 57.7830</text>
<text x="9.3" y="640" font-size="10" textLength="147" lengthAdjust="spacingAndGlyphs" fill="#000">MACD(12,26,9) 0.001543 0.000413</text>
<rect x="0" y="740" width="1641" height="1" fill="#e0e0e0"/>
<rect x="0" y="742" width="1641" height="1" fill="#000"/>
<rect x="0" y="743" width="1641" height="19" fill="#f0f0f0"/>
<rect x="0" y="743" width="1" height="19" fill="#a0a0a0"/>
<rect x="1" y="743" width="1" height="19" fill="#737373"/>
<rect x="0" y="763" width="1641" height="3" fill="#f0f0f0"/>
<rect x="0" y="766" width="1641" height="1" fill="#a0a0a0"/>
<rect x="0" y="767" width="1641" height="3" fill="#ffffff"/>
<rect x="110" y="742" width="100" height="19" fill="#000"/>
<rect x="111" y="742" width="98" height="18" fill="#fff"/>
<text x="17.6" y="757" font-size="12" textLength="80.6" lengthAdjust="spacingAndGlyphs" fill="#6d6d6d">EURUSD,Daily</text>
<text x="119.2" y="757" font-size="12" textLength="80.1" lengthAdjust="spacingAndGlyphs" fill="#000">USDCHF,Daily</text>
<text x="220.8" y="757" font-size="12" textLength="82.7" lengthAdjust="spacingAndGlyphs" fill="#6d6d6d">AUDUSD,Daily</text>
<text x="324.5" y="757" font-size="12" textLength="82.0" lengthAdjust="spacingAndGlyphs" fill="#6d6d6d">USDCAD,Daily</text>
<text x="427.4" y="757" font-size="12" textLength="84.3" lengthAdjust="spacingAndGlyphs" fill="#6d6d6d">USDCNH,Daily</text>
<text x="533.6" y="757" font-size="12" textLength="81.0" lengthAdjust="spacingAndGlyphs" fill="#6d6d6d">EURUSD,Daily</text>
<text x="635.9" y="757" font-size="12" textLength="70.9" lengthAdjust="spacingAndGlyphs" fill="#6d6d6d">GBPUSD,M5</text>
<text x="728.5" y="757" font-size="12" textLength="69.6" lengthAdjust="spacingAndGlyphs" fill="#6d6d6d">XAUUSD,H1</text>
<text x="820.7" y="757" font-size="12" textLength="50.3" lengthAdjust="spacingAndGlyphs" fill="#6d6d6d">HK50,H1</text>
<text x="892.6" y="757" font-size="12" textLength="57.6" lengthAdjust="spacingAndGlyphs" fill="#6d6d6d">UK100,H1</text>
<text x="972.4" y="757" font-size="12" textLength="57.6" lengthAdjust="spacingAndGlyphs" fill="#6d6d6d">UK100,H1</text>
<text x="1052.6" y="757" font-size="12" textLength="57.6" lengthAdjust="spacingAndGlyphs" fill="#6d6d6d">GER30,H1</text>
<text x="1131.8" y="757" font-size="12" textLength="55.1" lengthAdjust="spacingAndGlyphs" fill="#6d6d6d">FRA40,H1</text>
<text x="1207.3" y="757" font-size="12" textLength="51.9" lengthAdjust="spacingAndGlyphs" fill="#6d6d6d">USOil,H1</text>
<text x="1279.3" y="757" font-size="12" textLength="63.2" lengthAdjust="spacingAndGlyphs" fill="#6d6d6d">USDJPY,H1</text>
<rect x="314" y="747" width="1" height="12" fill="#6d6d6d"/>
<rect x="419" y="747" width="1" height="12" fill="#6d6d6d"/>
<rect x="523" y="747" width="1" height="12" fill="#6d6d6d"/>
<rect x="626" y="747" width="1" height="12" fill="#6d6d6d"/>
<rect x="719" y="747" width="1" height="12" fill="#6d6d6d"/>
<rect x="811" y="747" width="1" height="12" fill="#6d6d6d"/>
<rect x="883" y="747" width="1" height="12" fill="#6d6d6d"/>
<rect x="963" y="747" width="1" height="12" fill="#6d6d6d"/>
<rect x="1043" y="747" width="1" height="12" fill="#6d6d6d"/>
<rect x="1123" y="747" width="1" height="12" fill="#6d6d6d"/>
<rect x="1198" y="747" width="1" height="12" fill="#6d6d6d"/>
<rect x="1270" y="747" width="1" height="12" fill="#6d6d6d"/>
<rect x="1354" y="747" width="1" height="12" fill="#6d6d6d"/>
<polygon points="1612.5,751 1616.5,747 1616.5,755" fill="#909090"/>
<polygon points="1636,751 1632,747 1632,755" fill="#909090"/>
<g shape-rendering="crispEdges">
<rect x="29" y="0" width="1" height="21" fill="#a0a0a0"/>
<rect x="30" y="0" width="1" height="21" fill="#ffffff"/>
<rect x="33" y="1" width="3" height="1" fill="#a0a0a0"/>
<rect x="33" y="3" width="3" height="1" fill="#a0a0a0"/>
<rect x="33" y="5" width="3" height="1" fill="#a0a0a0"/>
<rect x="33" y="7" width="3" height="1" fill="#a0a0a0"/>
<rect x="33" y="9" width="3" height="1" fill="#a0a0a0"/>
<rect x="33" y="11" width="3" height="1" fill="#a0a0a0"/>
<rect x="33" y="13" width="3" height="1" fill="#a0a0a0"/>
<rect x="33" y="15" width="3" height="1" fill="#a0a0a0"/>
<rect x="33" y="17" width="3" height="1" fill="#a0a0a0"/>
<rect x="290" y="0" width="1" height="21" fill="#a0a0a0"/>
<rect x="291" y="0" width="1" height="21" fill="#ffffff"/>
<rect x="207" y="0" width="26" height="19" fill="#f7f7f7"/>
<rect x="207" y="0" width="1" height="19" fill="#a0a0a0"/>
</g>
<text x="44.0" y="13" font-size="10" textLength="13.4" lengthAdjust="spacingAndGlyphs" fill="#3a3a3a">M1</text>
<text x="72.2" y="13" font-size="10" textLength="13.2" lengthAdjust="spacingAndGlyphs" fill="#3a3a3a">M5</text>
<text x="98.1" y="13" font-size="10" textLength="18.3" lengthAdjust="spacingAndGlyphs" fill="#3a3a3a">M15</text>
<text x="125.9" y="13" font-size="10" textLength="18.9" lengthAdjust="spacingAndGlyphs" fill="#3a3a3a">M30</text>
<text x="157.0" y="13" font-size="10" textLength="12.4" lengthAdjust="spacingAndGlyphs" fill="#3a3a3a">H1</text>
<text x="184.0" y="13" font-size="10" textLength="13.4" lengthAdjust="spacingAndGlyphs" fill="#3a3a3a">H4</text>
<text x="212.9" y="13" font-size="10" textLength="12.7" lengthAdjust="spacingAndGlyphs" fill="#3a3a3a">D1</text>
<text x="240.4" y="13" font-size="10" textLength="15.0" lengthAdjust="spacingAndGlyphs" fill="#3a3a3a">W1</text>
<text x="267.2" y="13" font-size="10" textLength="15.6" lengthAdjust="spacingAndGlyphs" fill="#3a3a3a">MN</text>
<polygon points="0,2.8 1,2.8 4,6.3 2,7.8 0,7.8" fill="#505050"/>
<polyline points="0,10.3 1.4,12.3 5.8,7.6" fill="none" stroke="#303030" stroke-width="1.3"/>
<polygon points="4,11 11,11 7.5,16" fill="#505050"/>
<polygon points="17.8,8 23.2,8 20.5,11.2" fill="#000"/>
</svg>
</body></html>
